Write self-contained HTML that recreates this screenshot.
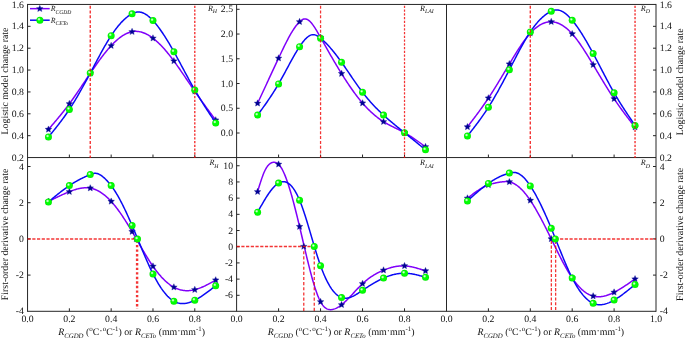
<!DOCTYPE html>
<html lang="en"><head><meta charset="utf-8"><title>Logistic model change rate and first-order derivative change rate</title>
<style>html,body{margin:0;padding:0;background:#fff;}body{width:685px;height:339px;overflow:hidden;}svg{display:block;}text{font-family:"Liberation Serif", "DejaVu Serif", serif;font-size:9.75px;fill:#111;text-rendering:geometricPrecision;}</style>
</head><body>
<svg width="685" height="339" viewBox="0 0 685 339">
<defs><radialGradient id="gbody" cx="0.5" cy="0.5" r="0.5"><stop offset="0" stop-color="#08ff08"/><stop offset="0.8" stop-color="#00fc00"/><stop offset="1" stop-color="#00e400"/></radialGradient><radialGradient id="ghl" cx="0.5" cy="0.5" r="0.5"><stop offset="0" stop-color="#ffffff" stop-opacity="0.95"/><stop offset="0.35" stop-color="#ffffff" stop-opacity="0.7"/><stop offset="1" stop-color="#ffffff" stop-opacity="0"/></radialGradient></defs>
<rect x="0" y="0" width="685" height="339" fill="#ffffff"/>
<g stroke="#262626" stroke-width="1" fill="none" shape-rendering="auto">
<line x1="27.55" y1="4.45" x2="656.00" y2="4.45"/>
<line x1="27.55" y1="157.55" x2="656.00" y2="157.55"/>
<line x1="27.55" y1="311.30" x2="656.00" y2="311.30"/>
<line x1="27.55" y1="3.95" x2="27.55" y2="311.80"/>
<line x1="236.60" y1="4.45" x2="236.60" y2="311.30"/>
<line x1="446.50" y1="4.45" x2="446.50" y2="311.30"/>
<line x1="656.00" y1="3.95" x2="656.00" y2="311.80"/>
<line x1="69.36" y1="157.55" x2="69.36" y2="154.55"/>
<line x1="69.36" y1="311.30" x2="69.36" y2="308.30"/>
<line x1="111.17" y1="157.55" x2="111.17" y2="154.55"/>
<line x1="111.17" y1="311.30" x2="111.17" y2="308.30"/>
<line x1="152.98" y1="157.55" x2="152.98" y2="154.55"/>
<line x1="152.98" y1="311.30" x2="152.98" y2="308.30"/>
<line x1="194.79" y1="157.55" x2="194.79" y2="154.55"/>
<line x1="194.79" y1="311.30" x2="194.79" y2="308.30"/>
<line x1="278.58" y1="157.55" x2="278.58" y2="154.55"/>
<line x1="278.58" y1="311.30" x2="278.58" y2="308.30"/>
<line x1="320.56" y1="157.55" x2="320.56" y2="154.55"/>
<line x1="320.56" y1="311.30" x2="320.56" y2="308.30"/>
<line x1="362.54" y1="157.55" x2="362.54" y2="154.55"/>
<line x1="362.54" y1="311.30" x2="362.54" y2="308.30"/>
<line x1="404.52" y1="157.55" x2="404.52" y2="154.55"/>
<line x1="404.52" y1="311.30" x2="404.52" y2="308.30"/>
<line x1="488.40" y1="157.55" x2="488.40" y2="154.55"/>
<line x1="488.40" y1="311.30" x2="488.40" y2="308.30"/>
<line x1="530.30" y1="157.55" x2="530.30" y2="154.55"/>
<line x1="530.30" y1="311.30" x2="530.30" y2="308.30"/>
<line x1="572.20" y1="157.55" x2="572.20" y2="154.55"/>
<line x1="572.20" y1="311.30" x2="572.20" y2="308.30"/>
<line x1="614.10" y1="157.55" x2="614.10" y2="154.55"/>
<line x1="614.10" y1="311.30" x2="614.10" y2="308.30"/>
<line x1="27.55" y1="26.32" x2="30.55" y2="26.32"/>
<line x1="27.55" y1="48.19" x2="30.55" y2="48.19"/>
<line x1="27.55" y1="70.06" x2="30.55" y2="70.06"/>
<line x1="27.55" y1="91.94" x2="30.55" y2="91.94"/>
<line x1="27.55" y1="113.81" x2="30.55" y2="113.81"/>
<line x1="27.55" y1="135.68" x2="30.55" y2="135.68"/>
<line x1="27.55" y1="166.50" x2="30.55" y2="166.50"/>
<line x1="27.55" y1="202.70" x2="30.55" y2="202.70"/>
<line x1="27.55" y1="238.90" x2="30.55" y2="238.90"/>
<line x1="27.55" y1="275.10" x2="30.55" y2="275.10"/>
<line x1="236.60" y1="9.30" x2="239.60" y2="9.30"/>
<line x1="236.60" y1="34.04" x2="239.60" y2="34.04"/>
<line x1="236.60" y1="58.78" x2="239.60" y2="58.78"/>
<line x1="236.60" y1="83.52" x2="239.60" y2="83.52"/>
<line x1="236.60" y1="108.26" x2="239.60" y2="108.26"/>
<line x1="236.60" y1="133.00" x2="239.60" y2="133.00"/>
<line x1="236.60" y1="165.75" x2="239.60" y2="165.75"/>
<line x1="236.60" y1="181.94" x2="239.60" y2="181.94"/>
<line x1="236.60" y1="198.14" x2="239.60" y2="198.14"/>
<line x1="236.60" y1="214.33" x2="239.60" y2="214.33"/>
<line x1="236.60" y1="230.53" x2="239.60" y2="230.53"/>
<line x1="236.60" y1="246.72" x2="239.60" y2="246.72"/>
<line x1="236.60" y1="262.91" x2="239.60" y2="262.91"/>
<line x1="236.60" y1="279.11" x2="239.60" y2="279.11"/>
<line x1="236.60" y1="295.30" x2="239.60" y2="295.30"/>
<line x1="656.00" y1="26.32" x2="653.00" y2="26.32"/>
<line x1="656.00" y1="48.19" x2="653.00" y2="48.19"/>
<line x1="656.00" y1="70.06" x2="653.00" y2="70.06"/>
<line x1="656.00" y1="91.94" x2="653.00" y2="91.94"/>
<line x1="656.00" y1="113.81" x2="653.00" y2="113.81"/>
<line x1="656.00" y1="135.68" x2="653.00" y2="135.68"/>
<line x1="656.00" y1="166.50" x2="653.00" y2="166.50"/>
<line x1="656.00" y1="202.70" x2="653.00" y2="202.70"/>
<line x1="656.00" y1="238.90" x2="653.00" y2="238.90"/>
<line x1="656.00" y1="275.10" x2="653.00" y2="275.10"/>
</g>
<g>
<text x="23.95" y="7.60" text-anchor="end">1.6</text>
<text x="23.95" y="29.47" text-anchor="end">1.4</text>
<text x="23.95" y="51.34" text-anchor="end">1.2</text>
<text x="23.95" y="73.21" text-anchor="end">1.0</text>
<text x="23.95" y="95.09" text-anchor="end">0.8</text>
<text x="23.95" y="116.96" text-anchor="end">0.6</text>
<text x="23.95" y="138.83" text-anchor="end">0.4</text>
<text x="23.95" y="160.70" text-anchor="end">0.2</text>
<text x="23.95" y="169.65" text-anchor="end">4</text>
<text x="23.95" y="205.85" text-anchor="end">2</text>
<text x="23.95" y="242.05" text-anchor="end">0</text>
<text x="23.95" y="278.25" text-anchor="end">-2</text>
<text x="23.95" y="314.45" text-anchor="end">-4</text>
<text x="233.00" y="12.45" text-anchor="end">2.5</text>
<text x="233.00" y="37.19" text-anchor="end">2.0</text>
<text x="233.00" y="61.93" text-anchor="end">1.5</text>
<text x="233.00" y="86.67" text-anchor="end">1.0</text>
<text x="233.00" y="111.41" text-anchor="end">0.5</text>
<text x="233.00" y="136.15" text-anchor="end">0.0</text>
<text x="233.00" y="168.90" text-anchor="end">10</text>
<text x="233.00" y="185.09" text-anchor="end">8</text>
<text x="233.00" y="201.29" text-anchor="end">6</text>
<text x="233.00" y="217.48" text-anchor="end">4</text>
<text x="233.00" y="233.68" text-anchor="end">2</text>
<text x="233.00" y="249.87" text-anchor="end">0</text>
<text x="233.00" y="266.06" text-anchor="end">-2</text>
<text x="233.00" y="282.26" text-anchor="end">-4</text>
<text x="233.00" y="298.45" text-anchor="end">-6</text>
<text x="659.75" y="7.60" text-anchor="start">1.6</text>
<text x="659.75" y="29.47" text-anchor="start">1.4</text>
<text x="659.75" y="51.34" text-anchor="start">1.2</text>
<text x="659.75" y="73.21" text-anchor="start">1.0</text>
<text x="659.75" y="95.09" text-anchor="start">0.8</text>
<text x="659.75" y="116.96" text-anchor="start">0.6</text>
<text x="659.75" y="138.83" text-anchor="start">0.4</text>
<text x="659.75" y="160.70" text-anchor="start">0.2</text>
<text x="659.75" y="169.65" text-anchor="start">4</text>
<text x="659.75" y="205.85" text-anchor="start">2</text>
<text x="659.75" y="242.05" text-anchor="start">0</text>
<text x="659.75" y="278.25" text-anchor="start">-2</text>
<text x="659.75" y="314.45" text-anchor="start">-4</text>
<text x="27.55" y="322.30" text-anchor="middle">0.0</text>
<text x="69.36" y="322.30" text-anchor="middle">0.2</text>
<text x="111.17" y="322.30" text-anchor="middle">0.4</text>
<text x="152.98" y="322.30" text-anchor="middle">0.6</text>
<text x="194.79" y="322.30" text-anchor="middle">0.8</text>
<text x="236.60" y="322.30" text-anchor="middle">0.0</text>
<text x="278.58" y="322.30" text-anchor="middle">0.2</text>
<text x="320.56" y="322.30" text-anchor="middle">0.4</text>
<text x="362.54" y="322.30" text-anchor="middle">0.6</text>
<text x="404.52" y="322.30" text-anchor="middle">0.8</text>
<text x="446.50" y="322.30" text-anchor="middle">0.0</text>
<text x="488.40" y="322.30" text-anchor="middle">0.2</text>
<text x="530.30" y="322.30" text-anchor="middle">0.4</text>
<text x="572.20" y="322.30" text-anchor="middle">0.6</text>
<text x="614.10" y="322.30" text-anchor="middle">0.8</text>
<text x="656.00" y="322.30" text-anchor="middle">1.0</text>
</g>
<text x="131.57" y="335.1" text-anchor="middle" style="font-size:9.9px"><tspan font-style="italic">R</tspan><tspan font-style="italic" font-size="6.8" dy="2.4">CGDD</tspan><tspan dy="-2.4"> (</tspan><tspan font-size="7" dy="-4.2">o</tspan><tspan dy="4.2">C</tspan><tspan dy="-1.1">·</tspan><tspan font-size="7" dy="-3.1">o</tspan><tspan dy="4.2">C</tspan><tspan font-size="6.8" dy="-4.3">-1</tspan><tspan dy="4.3">) or </tspan><tspan font-style="italic">R</tspan><tspan font-style="italic" font-size="6.8" dy="2.4">CETo</tspan><tspan dy="-2.4"> (mm</tspan><tspan dy="-1.1">·</tspan><tspan dy="1.1">mm</tspan><tspan font-size="6.8" dy="-4.3">-1</tspan><tspan dy="4.3">)</tspan></text>
<text x="341.05" y="335.1" text-anchor="middle" style="font-size:9.9px"><tspan font-style="italic">R</tspan><tspan font-style="italic" font-size="6.8" dy="2.4">CGDD</tspan><tspan dy="-2.4"> (</tspan><tspan font-size="7" dy="-4.2">o</tspan><tspan dy="4.2">C</tspan><tspan dy="-1.1">·</tspan><tspan font-size="7" dy="-3.1">o</tspan><tspan dy="4.2">C</tspan><tspan font-size="6.8" dy="-4.3">-1</tspan><tspan dy="4.3">) or </tspan><tspan font-style="italic">R</tspan><tspan font-style="italic" font-size="6.8" dy="2.4">CETo</tspan><tspan dy="-2.4"> (mm</tspan><tspan dy="-1.1">·</tspan><tspan dy="1.1">mm</tspan><tspan font-size="6.8" dy="-4.3">-1</tspan><tspan dy="4.3">)</tspan></text>
<text x="550.75" y="335.1" text-anchor="middle" style="font-size:9.9px"><tspan font-style="italic">R</tspan><tspan font-style="italic" font-size="6.8" dy="2.4">CGDD</tspan><tspan dy="-2.4"> (</tspan><tspan font-size="7" dy="-4.2">o</tspan><tspan dy="4.2">C</tspan><tspan dy="-1.1">·</tspan><tspan font-size="7" dy="-3.1">o</tspan><tspan dy="4.2">C</tspan><tspan font-size="6.8" dy="-4.3">-1</tspan><tspan dy="4.3">) or </tspan><tspan font-style="italic">R</tspan><tspan font-style="italic" font-size="6.8" dy="2.4">CETo</tspan><tspan dy="-2.4"> (mm</tspan><tspan dy="-1.1">·</tspan><tspan dy="1.1">mm</tspan><tspan font-size="6.8" dy="-4.3">-1</tspan><tspan dy="4.3">)</tspan></text>
<text transform="translate(8.10 81.00) rotate(-90)" text-anchor="middle" style="font-size:9.85px">Logistic model change rate</text>
<text transform="translate(8.10 234.43) rotate(-90)" text-anchor="middle" style="font-size:9.85px">First-order derivative change rate</text>
<text transform="translate(683.00 81.90) rotate(-90)" text-anchor="middle" style="font-size:9.85px">Logistic model change rate</text>
<text transform="translate(682.90 234.33) rotate(-90)" text-anchor="middle" style="font-size:9.97px">First-order derivative change rate</text>
<text x="207.90" y="10.80" font-style="italic" style="font-size:8.1px">R<tspan font-size="5.8" dy="2.3">H</tspan></text>
<text x="209.40" y="165.20" font-style="italic" style="font-size:8.1px">R<tspan font-size="5.8" dy="2.3">H</tspan></text>
<text x="420.10" y="10.80" font-style="italic" style="font-size:8.1px">R<tspan font-size="5.8" dy="2.3">LAI</tspan></text>
<text x="420.10" y="165.20" font-style="italic" style="font-size:8.1px">R<tspan font-size="5.8" dy="2.3">LAI</tspan></text>
<text x="640.80" y="10.80" font-style="italic" style="font-size:8.1px">R<tspan font-size="5.8" dy="2.3">D</tspan></text>
<text x="640.80" y="165.20" font-style="italic" style="font-size:8.1px">R<tspan font-size="5.8" dy="2.3">D</tspan></text>
<path d="M48.45 129.40 L49.15 128.59 L49.85 127.78 L50.55 126.97 L51.24 126.16 L51.94 125.35 L52.64 124.54 L53.33 123.72 L54.03 122.91 L54.73 122.09 L55.42 121.27 L56.12 120.44 L56.82 119.61 L57.51 118.78 L58.21 117.94 L58.91 117.10 L59.60 116.26 L60.30 115.41 L61.00 114.56 L61.69 113.70 L62.39 112.83 L63.09 111.96 L63.79 111.08 L64.48 110.20 L65.18 109.31 L65.88 108.41 L66.57 107.50 L67.27 106.59 L67.97 105.67 L68.66 104.74 L69.36 103.80 L70.06 102.85 L70.75 101.90 L71.45 100.93 L72.15 99.96 L72.84 98.98 L73.54 97.99 L74.24 97.00 L74.93 96.00 L75.63 95.00 L76.33 93.99 L77.03 92.97 L77.72 91.95 L78.42 90.93 L79.12 89.90 L79.81 88.87 L80.51 87.84 L81.21 86.80 L81.90 85.77 L82.60 84.73 L83.30 83.69 L83.99 82.65 L84.69 81.60 L85.39 80.56 L86.08 79.52 L86.78 78.48 L87.48 77.44 L88.17 76.40 L88.87 75.36 L89.57 74.33 L90.27 73.30 L90.96 72.27 L91.66 71.25 L92.36 70.23 L93.05 69.21 L93.75 68.20 L94.45 67.20 L95.14 66.20 L95.84 65.20 L96.54 64.22 L97.23 63.24 L97.93 62.26 L98.63 61.30 L99.32 60.34 L100.02 59.39 L100.72 58.45 L101.41 57.52 L102.11 56.60 L102.81 55.69 L103.50 54.79 L104.20 53.90 L104.90 53.02 L105.60 52.16 L106.29 51.30 L106.99 50.46 L107.69 49.63 L108.38 48.82 L109.08 48.02 L109.78 47.23 L110.47 46.46 L111.17 45.70 L111.87 44.96 L112.56 44.23 L113.26 43.52 L113.96 42.83 L114.65 42.15 L115.35 41.49 L116.05 40.85 L116.74 40.23 L117.44 39.62 L118.14 39.03 L118.84 38.47 L119.53 37.92 L120.23 37.39 L120.93 36.88 L121.62 36.39 L122.32 35.92 L123.02 35.47 L123.71 35.04 L124.41 34.64 L125.11 34.25 L125.80 33.89 L126.50 33.55 L127.20 33.24 L127.89 32.95 L128.59 32.68 L129.29 32.43 L129.98 32.21 L130.68 32.02 L131.38 31.85 L132.07 31.70 L132.77 31.58 L133.47 31.49 L134.17 31.42 L134.86 31.37 L135.56 31.35 L136.26 31.36 L136.95 31.39 L137.65 31.44 L138.35 31.52 L139.04 31.62 L139.74 31.74 L140.44 31.89 L141.13 32.06 L141.83 32.25 L142.53 32.47 L143.22 32.70 L143.92 32.96 L144.62 33.24 L145.31 33.54 L146.01 33.87 L146.71 34.21 L147.41 34.57 L148.10 34.96 L148.80 35.36 L149.50 35.79 L150.19 36.23 L150.89 36.69 L151.59 37.18 L152.28 37.68 L152.98 38.20 L153.68 38.74 L154.37 39.30 L155.07 39.87 L155.77 40.46 L156.46 41.07 L157.16 41.70 L157.86 42.34 L158.55 43.00 L159.25 43.68 L159.95 44.37 L160.65 45.08 L161.34 45.80 L162.04 46.53 L162.74 47.29 L163.43 48.05 L164.13 48.83 L164.83 49.62 L165.52 50.43 L166.22 51.24 L166.92 52.07 L167.61 52.92 L168.31 53.77 L169.01 54.64 L169.70 55.52 L170.40 56.40 L171.10 57.30 L171.79 58.21 L172.49 59.13 L173.19 60.06 L173.89 61.00 L174.58 61.95 L175.28 62.90 L175.98 63.87 L176.67 64.84 L177.37 65.82 L178.07 66.81 L178.76 67.80 L179.46 68.80 L180.16 69.80 L180.85 70.81 L181.55 71.82 L182.25 72.84 L182.94 73.86 L183.64 74.88 L184.34 75.91 L185.03 76.94 L185.73 77.97 L186.43 79.00 L187.12 80.03 L187.82 81.06 L188.52 82.09 L189.22 83.13 L189.91 84.16 L190.61 85.18 L191.31 86.21 L192.00 87.24 L192.70 88.26 L193.40 89.28 L194.09 90.29 L194.79 91.30 L195.49 92.31 L196.18 93.31 L196.88 94.30 L197.58 95.29 L198.27 96.28 L198.97 97.27 L199.67 98.25 L200.36 99.22 L201.06 100.20 L201.76 101.16 L202.46 102.13 L203.15 103.09 L203.85 104.06 L204.55 105.01 L205.24 105.97 L205.94 106.92 L206.64 107.87 L207.33 108.82 L208.03 109.77 L208.73 110.71 L209.42 111.66 L210.12 112.60 L210.82 113.54 L211.51 114.48 L212.21 115.42 L212.91 116.35 L213.60 117.29 L214.30 118.23 L215.00 119.16 L215.69 120.10" fill="none" stroke="#8000fa" stroke-width="1.5" stroke-linejoin="round" stroke-linecap="round"/>
<polygon points="48.45,125.95 49.40,128.11 51.74,128.33 49.98,129.89 50.48,132.19 48.45,131.00 46.43,132.19 46.93,129.89 45.17,128.33 47.51,128.11" fill="#000094" stroke="#2020a0" stroke-width="0.4" stroke-linejoin="miter"/>
<polygon points="69.36,100.35 70.30,102.51 72.64,102.73 70.88,104.29 71.39,106.59 69.36,105.40 67.33,106.59 67.84,104.29 66.08,102.73 68.42,102.51" fill="#000094" stroke="#2020a0" stroke-width="0.4" stroke-linejoin="miter"/>
<polygon points="90.26,69.85 91.21,72.01 93.55,72.23 91.79,73.79 92.29,76.09 90.26,74.90 88.24,76.09 88.74,73.79 86.98,72.23 89.32,72.01" fill="#000094" stroke="#2020a0" stroke-width="0.4" stroke-linejoin="miter"/>
<polygon points="111.17,42.25 112.11,44.41 114.45,44.63 112.69,46.19 113.20,48.49 111.17,47.30 109.14,48.49 109.65,46.19 107.89,44.63 110.23,44.41" fill="#000094" stroke="#2020a0" stroke-width="0.4" stroke-linejoin="miter"/>
<polygon points="132.07,28.25 133.02,30.41 135.36,30.63 133.60,32.19 134.10,34.49 132.07,33.30 130.05,34.49 130.55,32.19 128.79,30.63 131.13,30.41" fill="#000094" stroke="#2020a0" stroke-width="0.4" stroke-linejoin="miter"/>
<polygon points="152.98,34.75 153.92,36.91 156.26,37.13 154.50,38.69 155.01,40.99 152.98,39.80 150.95,40.99 151.46,38.69 149.70,37.13 152.04,36.91" fill="#000094" stroke="#2020a0" stroke-width="0.4" stroke-linejoin="miter"/>
<polygon points="173.88,57.55 174.83,59.71 177.17,59.93 175.41,61.49 175.91,63.79 173.88,62.60 171.86,63.79 172.36,61.49 170.60,59.93 172.94,59.71" fill="#000094" stroke="#2020a0" stroke-width="0.4" stroke-linejoin="miter"/>
<polygon points="194.79,87.85 195.73,90.01 198.07,90.23 196.31,91.79 196.82,94.09 194.79,92.90 192.76,94.09 193.27,91.79 191.51,90.23 193.85,90.01" fill="#000094" stroke="#2020a0" stroke-width="0.4" stroke-linejoin="miter"/>
<polygon points="215.69,116.65 216.64,118.81 218.98,119.03 217.22,120.59 217.72,122.89 215.69,121.70 213.67,122.89 214.17,120.59 212.41,119.03 214.75,118.81" fill="#000094" stroke="#2020a0" stroke-width="0.4" stroke-linejoin="miter"/>
<path d="M48.45 137.00 L49.15 136.15 L49.85 135.30 L50.55 134.44 L51.24 133.59 L51.94 132.73 L52.64 131.87 L53.33 131.01 L54.03 130.15 L54.73 129.28 L55.42 128.41 L56.12 127.53 L56.82 126.65 L57.51 125.76 L58.21 124.87 L58.91 123.97 L59.60 123.06 L60.30 122.15 L61.00 121.23 L61.69 120.30 L62.39 119.36 L63.09 118.41 L63.79 117.45 L64.48 116.49 L65.18 115.51 L65.88 114.52 L66.57 113.52 L67.27 112.51 L67.97 111.49 L68.66 110.45 L69.36 109.40 L70.06 108.34 L70.75 107.26 L71.45 106.17 L72.15 105.07 L72.84 103.95 L73.54 102.83 L74.24 101.69 L74.93 100.54 L75.63 99.38 L76.33 98.21 L77.03 97.03 L77.72 95.84 L78.42 94.64 L79.12 93.43 L79.81 92.21 L80.51 90.98 L81.21 89.75 L81.90 88.50 L82.60 87.25 L83.30 86.00 L83.99 84.73 L84.69 83.46 L85.39 82.18 L86.08 80.90 L86.78 79.61 L87.48 78.32 L88.17 77.02 L88.87 75.72 L89.57 74.41 L90.27 73.10 L90.96 71.79 L91.66 70.47 L92.36 69.15 L93.05 67.83 L93.75 66.51 L94.45 65.19 L95.14 63.87 L95.84 62.56 L96.54 61.25 L97.23 59.94 L97.93 58.63 L98.63 57.33 L99.32 56.04 L100.02 54.75 L100.72 53.47 L101.41 52.20 L102.11 50.94 L102.81 49.68 L103.50 48.44 L104.20 47.21 L104.90 45.99 L105.60 44.79 L106.29 43.59 L106.99 42.42 L107.69 41.25 L108.38 40.11 L109.08 38.98 L109.78 37.87 L110.47 36.77 L111.17 35.70 L111.87 34.65 L112.56 33.61 L113.26 32.60 L113.96 31.61 L114.65 30.63 L115.35 29.68 L116.05 28.75 L116.74 27.85 L117.44 26.96 L118.14 26.09 L118.84 25.25 L119.53 24.43 L120.23 23.64 L120.93 22.86 L121.62 22.11 L122.32 21.39 L123.02 20.68 L123.71 20.00 L124.41 19.35 L125.11 18.72 L125.80 18.11 L126.50 17.53 L127.20 16.97 L127.89 16.44 L128.59 15.94 L129.29 15.46 L129.98 15.00 L130.68 14.58 L131.38 14.17 L132.07 13.80 L132.77 13.45 L133.47 13.14 L134.17 12.85 L134.86 12.60 L135.56 12.39 L136.26 12.22 L136.95 12.09 L137.65 12.01 L138.35 11.97 L139.04 11.99 L139.74 12.05 L140.44 12.15 L141.13 12.30 L141.83 12.50 L142.53 12.73 L143.22 13.01 L143.92 13.33 L144.62 13.69 L145.31 14.08 L146.01 14.51 L146.71 14.98 L147.41 15.48 L148.10 16.02 L148.80 16.58 L149.50 17.18 L150.19 17.81 L150.89 18.47 L151.59 19.15 L152.28 19.86 L152.98 20.60 L153.68 21.36 L154.37 22.15 L155.07 22.96 L155.77 23.79 L156.46 24.64 L157.16 25.52 L157.86 26.41 L158.55 27.33 L159.25 28.27 L159.95 29.23 L160.65 30.20 L161.34 31.20 L162.04 32.21 L162.74 33.24 L163.43 34.29 L164.13 35.35 L164.83 36.43 L165.52 37.53 L166.22 38.64 L166.92 39.77 L167.61 40.91 L168.31 42.06 L169.01 43.22 L169.70 44.40 L170.40 45.59 L171.10 46.79 L171.79 48.00 L172.49 49.23 L173.19 50.46 L173.89 51.70 L174.58 52.95 L175.28 54.21 L175.98 55.47 L176.67 56.74 L177.37 58.02 L178.07 59.31 L178.76 60.59 L179.46 61.89 L180.16 63.18 L180.85 64.48 L181.55 65.78 L182.25 67.08 L182.94 68.38 L183.64 69.69 L184.34 70.99 L185.03 72.29 L185.73 73.59 L186.43 74.89 L187.12 76.18 L187.82 77.47 L188.52 78.75 L189.22 80.03 L189.91 81.31 L190.61 82.57 L191.31 83.83 L192.00 85.08 L192.70 86.33 L193.40 87.56 L194.09 88.79 L194.79 90.00 L195.49 91.20 L196.18 92.39 L196.88 93.58 L197.58 94.75 L198.27 95.91 L198.97 97.06 L199.67 98.21 L200.36 99.34 L201.06 100.47 L201.76 101.59 L202.46 102.70 L203.15 103.80 L203.85 104.90 L204.55 105.99 L205.24 107.08 L205.94 108.16 L206.64 109.23 L207.33 110.30 L208.03 111.37 L208.73 112.43 L209.42 113.49 L210.12 114.54 L210.82 115.59 L211.51 116.64 L212.21 117.69 L212.91 118.73 L213.60 119.78 L214.30 120.82 L215.00 121.86 L215.69 122.90" fill="none" stroke="#0a0af5" stroke-width="1.5" stroke-linejoin="round" stroke-linecap="round"/>
<circle cx="48.45" cy="137.00" r="3.5" fill="url(#gbody)"/><circle cx="47.55" cy="136.05" r="1.75" fill="url(#ghl)"/>
<circle cx="69.36" cy="109.40" r="3.5" fill="url(#gbody)"/><circle cx="68.46" cy="108.45" r="1.75" fill="url(#ghl)"/>
<circle cx="90.26" cy="73.10" r="3.5" fill="url(#gbody)"/><circle cx="89.36" cy="72.15" r="1.75" fill="url(#ghl)"/>
<circle cx="111.17" cy="35.70" r="3.5" fill="url(#gbody)"/><circle cx="110.27" cy="34.75" r="1.75" fill="url(#ghl)"/>
<circle cx="132.07" cy="13.80" r="3.5" fill="url(#gbody)"/><circle cx="131.17" cy="12.85" r="1.75" fill="url(#ghl)"/>
<circle cx="152.98" cy="20.60" r="3.5" fill="url(#gbody)"/><circle cx="152.08" cy="19.65" r="1.75" fill="url(#ghl)"/>
<circle cx="173.88" cy="51.70" r="3.5" fill="url(#gbody)"/><circle cx="172.98" cy="50.75" r="1.75" fill="url(#ghl)"/>
<circle cx="194.79" cy="90.00" r="3.5" fill="url(#gbody)"/><circle cx="193.89" cy="89.05" r="1.75" fill="url(#ghl)"/>
<circle cx="215.69" cy="122.90" r="3.5" fill="url(#gbody)"/><circle cx="214.79" cy="121.95" r="1.75" fill="url(#ghl)"/>
<path d="M257.59 103.30 L258.29 101.79 L258.99 100.28 L259.69 98.77 L260.39 97.26 L261.09 95.76 L261.79 94.25 L262.49 92.74 L263.19 91.23 L263.89 89.72 L264.59 88.22 L265.29 86.71 L265.99 85.20 L266.69 83.70 L267.39 82.19 L268.08 80.69 L268.78 79.18 L269.48 77.68 L270.18 76.17 L270.88 74.67 L271.58 73.17 L272.28 71.67 L272.98 70.17 L273.68 68.67 L274.38 67.17 L275.08 65.67 L275.78 64.18 L276.48 62.68 L277.18 61.19 L277.88 59.69 L278.58 58.20 L279.28 56.71 L279.98 55.22 L280.68 53.74 L281.38 52.26 L282.08 50.79 L282.78 49.33 L283.48 47.88 L284.18 46.45 L284.88 45.03 L285.58 43.63 L286.28 42.24 L286.98 40.88 L287.68 39.54 L288.38 38.22 L289.07 36.93 L289.77 35.66 L290.47 34.43 L291.17 33.22 L291.87 32.05 L292.57 30.91 L293.27 29.81 L293.97 28.75 L294.67 27.72 L295.37 26.74 L296.07 25.80 L296.77 24.90 L297.47 24.05 L298.17 23.25 L298.87 22.50 L299.57 21.80 L300.27 21.16 L300.97 20.57 L301.67 20.06 L302.37 19.63 L303.07 19.29 L303.77 19.04 L304.47 18.91 L305.17 18.88 L305.87 18.97 L306.57 19.16 L307.27 19.46 L307.97 19.85 L308.67 20.33 L309.37 20.90 L310.06 21.55 L310.76 22.27 L311.46 23.06 L312.16 23.92 L312.86 24.85 L313.56 25.82 L314.26 26.85 L314.96 27.92 L315.66 29.03 L316.36 30.18 L317.06 31.35 L317.76 32.55 L318.46 33.77 L319.16 35.01 L319.86 36.25 L320.56 37.50 L321.26 38.75 L321.96 40.00 L322.66 41.24 L323.36 42.49 L324.06 43.73 L324.76 44.97 L325.46 46.21 L326.16 47.44 L326.86 48.68 L327.56 49.91 L328.26 51.14 L328.96 52.36 L329.66 53.58 L330.36 54.80 L331.06 56.01 L331.75 57.22 L332.45 58.43 L333.15 59.63 L333.85 60.83 L334.55 62.02 L335.25 63.20 L335.95 64.38 L336.65 65.56 L337.35 66.72 L338.05 67.89 L338.75 69.04 L339.45 70.19 L340.15 71.34 L340.85 72.47 L341.55 73.60 L342.25 74.72 L342.95 75.83 L343.65 76.94 L344.35 78.04 L345.05 79.13 L345.75 80.21 L346.45 81.28 L347.15 82.35 L347.85 83.40 L348.55 84.45 L349.25 85.48 L349.95 86.51 L350.65 87.52 L351.35 88.53 L352.04 89.53 L352.74 90.51 L353.44 91.49 L354.14 92.45 L354.84 93.40 L355.54 94.35 L356.24 95.28 L356.94 96.19 L357.64 97.10 L358.34 98.00 L359.04 98.88 L359.74 99.75 L360.44 100.61 L361.14 101.45 L361.84 102.28 L362.54 103.10 L363.24 103.90 L363.94 104.70 L364.64 105.47 L365.34 106.24 L366.04 106.99 L366.74 107.73 L367.44 108.45 L368.14 109.17 L368.84 109.86 L369.54 110.55 L370.24 111.22 L370.94 111.89 L371.64 112.53 L372.34 113.17 L373.03 113.79 L373.73 114.40 L374.43 115.00 L375.13 115.59 L375.83 116.16 L376.53 116.73 L377.23 117.28 L377.93 117.82 L378.63 118.34 L379.33 118.86 L380.03 119.36 L380.73 119.85 L381.43 120.33 L382.13 120.80 L382.83 121.25 L383.53 121.70 L384.23 122.13 L384.93 122.56 L385.63 122.97 L386.33 123.38 L387.03 123.77 L387.73 124.16 L388.43 124.54 L389.13 124.91 L389.83 125.28 L390.53 125.64 L391.23 126.00 L391.93 126.35 L392.63 126.70 L393.33 127.04 L394.02 127.39 L394.72 127.73 L395.42 128.07 L396.12 128.41 L396.82 128.75 L397.52 129.09 L398.22 129.43 L398.92 129.78 L399.62 130.13 L400.32 130.48 L401.02 130.84 L401.72 131.20 L402.42 131.56 L403.12 131.93 L403.82 132.31 L404.52 132.70 L405.22 133.09 L405.92 133.50 L406.62 133.91 L407.32 134.32 L408.02 134.74 L408.72 135.17 L409.42 135.61 L410.12 136.05 L410.82 136.50 L411.52 136.96 L412.22 137.42 L412.92 137.88 L413.62 138.35 L414.32 138.82 L415.01 139.30 L415.71 139.78 L416.41 140.27 L417.11 140.76 L417.81 141.25 L418.51 141.74 L419.21 142.24 L419.91 142.74 L420.61 143.25 L421.31 143.75 L422.01 144.26 L422.71 144.76 L423.41 145.27 L424.11 145.78 L424.81 146.29 L425.51 146.80" fill="none" stroke="#8000fa" stroke-width="1.5" stroke-linejoin="round" stroke-linecap="round"/>
<polygon points="257.59,99.85 258.53,102.01 260.87,102.23 259.11,103.79 259.62,106.09 257.59,104.90 255.56,106.09 256.07,103.79 254.31,102.23 256.65,102.01" fill="#000094" stroke="#2020a0" stroke-width="0.4" stroke-linejoin="miter"/>
<polygon points="278.58,54.75 279.52,56.91 281.86,57.13 280.10,58.69 280.61,60.99 278.58,59.80 276.55,60.99 277.06,58.69 275.30,57.13 277.64,56.91" fill="#000094" stroke="#2020a0" stroke-width="0.4" stroke-linejoin="miter"/>
<polygon points="299.57,18.35 300.51,20.51 302.85,20.73 301.09,22.29 301.60,24.59 299.57,23.40 297.54,24.59 298.05,22.29 296.29,20.73 298.63,20.51" fill="#000094" stroke="#2020a0" stroke-width="0.4" stroke-linejoin="miter"/>
<polygon points="320.56,34.05 321.50,36.21 323.84,36.43 322.08,37.99 322.59,40.29 320.56,39.10 318.53,40.29 319.04,37.99 317.28,36.43 319.62,36.21" fill="#000094" stroke="#2020a0" stroke-width="0.4" stroke-linejoin="miter"/>
<polygon points="341.55,70.15 342.49,72.31 344.83,72.53 343.07,74.09 343.58,76.39 341.55,75.20 339.52,76.39 340.03,74.09 338.27,72.53 340.61,72.31" fill="#000094" stroke="#2020a0" stroke-width="0.4" stroke-linejoin="miter"/>
<polygon points="362.54,99.65 363.48,101.81 365.82,102.03 364.06,103.59 364.57,105.89 362.54,104.70 360.51,105.89 361.02,103.59 359.26,102.03 361.60,101.81" fill="#000094" stroke="#2020a0" stroke-width="0.4" stroke-linejoin="miter"/>
<polygon points="383.53,118.25 384.47,120.41 386.81,120.63 385.05,122.19 385.56,124.49 383.53,123.30 381.50,124.49 382.01,122.19 380.25,120.63 382.59,120.41" fill="#000094" stroke="#2020a0" stroke-width="0.4" stroke-linejoin="miter"/>
<polygon points="404.52,129.25 405.46,131.41 407.80,131.63 406.04,133.19 406.55,135.49 404.52,134.30 402.49,135.49 403.00,133.19 401.24,131.63 403.58,131.41" fill="#000094" stroke="#2020a0" stroke-width="0.4" stroke-linejoin="miter"/>
<polygon points="425.51,143.35 426.45,145.51 428.79,145.73 427.03,147.29 427.54,149.59 425.51,148.40 423.48,149.59 423.99,147.29 422.23,145.73 424.57,145.51" fill="#000094" stroke="#2020a0" stroke-width="0.4" stroke-linejoin="miter"/>
<path d="M257.59 115.10 L258.29 114.14 L258.99 113.19 L259.69 112.23 L260.39 111.27 L261.09 110.30 L261.79 109.34 L262.49 108.37 L263.19 107.40 L263.89 106.42 L264.59 105.44 L265.29 104.45 L265.99 103.46 L266.69 102.46 L267.39 101.45 L268.08 100.44 L268.78 99.41 L269.48 98.38 L270.18 97.34 L270.88 96.29 L271.58 95.23 L272.28 94.15 L272.98 93.07 L273.68 91.97 L274.38 90.86 L275.08 89.74 L275.78 88.60 L276.48 87.45 L277.18 86.28 L277.88 85.10 L278.58 83.90 L279.28 82.69 L279.98 81.46 L280.68 80.21 L281.38 78.96 L282.08 77.69 L282.78 76.41 L283.48 75.13 L284.18 73.84 L284.88 72.54 L285.58 71.24 L286.28 69.94 L286.98 68.64 L287.68 67.34 L288.38 66.04 L289.07 64.74 L289.77 63.45 L290.47 62.16 L291.17 60.89 L291.87 59.62 L292.57 58.36 L293.27 57.12 L293.97 55.88 L294.67 54.67 L295.37 53.47 L296.07 52.29 L296.77 51.13 L297.47 49.98 L298.17 48.87 L298.87 47.77 L299.57 46.70 L300.27 45.66 L300.97 44.64 L301.67 43.66 L302.37 42.72 L303.07 41.81 L303.77 40.94 L304.47 40.11 L305.17 39.34 L305.87 38.61 L306.57 37.93 L307.27 37.31 L307.97 36.74 L308.67 36.24 L309.37 35.80 L310.06 35.42 L310.76 35.11 L311.46 34.88 L312.16 34.72 L312.86 34.63 L313.56 34.63 L314.26 34.71 L314.96 34.86 L315.66 35.10 L316.36 35.39 L317.06 35.75 L317.76 36.16 L318.46 36.62 L319.16 37.11 L319.86 37.64 L320.56 38.20 L321.26 38.78 L321.96 39.37 L322.66 39.99 L323.36 40.62 L324.06 41.27 L324.76 41.94 L325.46 42.63 L326.16 43.33 L326.86 44.05 L327.56 44.78 L328.26 45.54 L328.96 46.30 L329.66 47.08 L330.36 47.88 L331.06 48.69 L331.75 49.52 L332.45 50.35 L333.15 51.21 L333.85 52.07 L334.55 52.95 L335.25 53.83 L335.95 54.73 L336.65 55.64 L337.35 56.57 L338.05 57.50 L338.75 58.44 L339.45 59.39 L340.15 60.35 L340.85 61.32 L341.55 62.30 L342.25 63.29 L342.95 64.28 L343.65 65.28 L344.35 66.29 L345.05 67.30 L345.75 68.31 L346.45 69.33 L347.15 70.36 L347.85 71.38 L348.55 72.41 L349.25 73.44 L349.95 74.47 L350.65 75.50 L351.35 76.53 L352.04 77.55 L352.74 78.58 L353.44 79.60 L354.14 80.62 L354.84 81.63 L355.54 82.64 L356.24 83.64 L356.94 84.64 L357.64 85.63 L358.34 86.61 L359.04 87.59 L359.74 88.55 L360.44 89.50 L361.14 90.45 L361.84 91.38 L362.54 92.30 L363.24 93.21 L363.94 94.10 L364.64 94.99 L365.34 95.86 L366.04 96.72 L366.74 97.57 L367.44 98.40 L368.14 99.23 L368.84 100.05 L369.54 100.85 L370.24 101.65 L370.94 102.43 L371.64 103.21 L372.34 103.97 L373.03 104.73 L373.73 105.47 L374.43 106.21 L375.13 106.94 L375.83 107.66 L376.53 108.37 L377.23 109.08 L377.93 109.78 L378.63 110.47 L379.33 111.15 L380.03 111.82 L380.73 112.49 L381.43 113.15 L382.13 113.81 L382.83 114.46 L383.53 115.10 L384.23 115.74 L384.93 116.37 L385.63 117.00 L386.33 117.62 L387.03 118.24 L387.73 118.85 L388.43 119.46 L389.13 120.06 L389.83 120.66 L390.53 121.26 L391.23 121.85 L391.93 122.44 L392.63 123.02 L393.33 123.61 L394.02 124.19 L394.72 124.76 L395.42 125.34 L396.12 125.91 L396.82 126.48 L397.52 127.05 L398.22 127.62 L398.92 128.19 L399.62 128.75 L400.32 129.32 L401.02 129.88 L401.72 130.45 L402.42 131.01 L403.12 131.57 L403.82 132.14 L404.52 132.70 L405.22 133.26 L405.92 133.83 L406.62 134.40 L407.32 134.96 L408.02 135.53 L408.72 136.09 L409.42 136.66 L410.12 137.23 L410.82 137.80 L411.52 138.37 L412.22 138.94 L412.92 139.51 L413.62 140.08 L414.32 140.65 L415.01 141.22 L415.71 141.79 L416.41 142.36 L417.11 142.93 L417.81 143.50 L418.51 144.07 L419.21 144.65 L419.91 145.22 L420.61 145.79 L421.31 146.36 L422.01 146.94 L422.71 147.51 L423.41 148.08 L424.11 148.65 L424.81 149.23 L425.51 149.80" fill="none" stroke="#0a0af5" stroke-width="1.5" stroke-linejoin="round" stroke-linecap="round"/>
<circle cx="257.59" cy="115.10" r="3.5" fill="url(#gbody)"/><circle cx="256.69" cy="114.15" r="1.75" fill="url(#ghl)"/>
<circle cx="278.58" cy="83.90" r="3.5" fill="url(#gbody)"/><circle cx="277.68" cy="82.95" r="1.75" fill="url(#ghl)"/>
<circle cx="299.57" cy="46.70" r="3.5" fill="url(#gbody)"/><circle cx="298.67" cy="45.75" r="1.75" fill="url(#ghl)"/>
<circle cx="320.56" cy="38.20" r="3.5" fill="url(#gbody)"/><circle cx="319.66" cy="37.25" r="1.75" fill="url(#ghl)"/>
<circle cx="341.55" cy="62.30" r="3.5" fill="url(#gbody)"/><circle cx="340.65" cy="61.35" r="1.75" fill="url(#ghl)"/>
<circle cx="362.54" cy="92.30" r="3.5" fill="url(#gbody)"/><circle cx="361.64" cy="91.35" r="1.75" fill="url(#ghl)"/>
<circle cx="383.53" cy="115.10" r="3.5" fill="url(#gbody)"/><circle cx="382.63" cy="114.15" r="1.75" fill="url(#ghl)"/>
<circle cx="404.52" cy="132.70" r="3.5" fill="url(#gbody)"/><circle cx="403.62" cy="131.75" r="1.75" fill="url(#ghl)"/>
<circle cx="425.51" cy="149.80" r="3.5" fill="url(#gbody)"/><circle cx="424.61" cy="148.85" r="1.75" fill="url(#ghl)"/>
<path d="M467.45 126.90 L468.15 125.99 L468.85 125.07 L469.55 124.16 L470.24 123.24 L470.94 122.32 L471.64 121.41 L472.34 120.48 L473.04 119.56 L473.74 118.64 L474.43 117.71 L475.13 116.78 L475.83 115.84 L476.53 114.91 L477.23 113.96 L477.93 113.02 L478.62 112.07 L479.32 111.11 L480.02 110.15 L480.72 109.18 L481.42 108.21 L482.12 107.23 L482.81 106.25 L483.51 105.26 L484.21 104.26 L484.91 103.25 L485.61 102.24 L486.31 101.22 L487.00 100.19 L487.70 99.15 L488.40 98.10 L489.10 97.04 L489.80 95.98 L490.50 94.90 L491.19 93.82 L491.89 92.73 L492.59 91.63 L493.29 90.53 L493.99 89.42 L494.69 88.30 L495.38 87.18 L496.08 86.05 L496.78 84.92 L497.48 83.78 L498.18 82.63 L498.88 81.48 L499.57 80.33 L500.27 79.18 L500.97 78.02 L501.67 76.86 L502.37 75.69 L503.06 74.53 L503.76 73.36 L504.46 72.19 L505.16 71.02 L505.86 69.85 L506.56 68.68 L507.25 67.51 L507.95 66.34 L508.65 65.17 L509.35 64.00 L510.05 62.83 L510.75 61.67 L511.44 60.51 L512.14 59.35 L512.84 58.20 L513.54 57.05 L514.24 55.91 L514.94 54.77 L515.63 53.65 L516.33 52.53 L517.03 51.42 L517.73 50.32 L518.43 49.23 L519.13 48.16 L519.82 47.10 L520.52 46.05 L521.22 45.01 L521.92 43.99 L522.62 42.99 L523.32 42.00 L524.01 41.03 L524.71 40.07 L525.41 39.14 L526.11 38.23 L526.81 37.33 L527.51 36.46 L528.20 35.61 L528.90 34.78 L529.60 33.98 L530.30 33.20 L531.00 32.45 L531.70 31.72 L532.39 31.01 L533.09 30.34 L533.79 29.68 L534.49 29.06 L535.19 28.46 L535.89 27.88 L536.58 27.33 L537.28 26.81 L537.98 26.31 L538.68 25.83 L539.38 25.39 L540.08 24.97 L540.77 24.57 L541.47 24.20 L542.17 23.86 L542.87 23.54 L543.57 23.25 L544.27 22.99 L544.96 22.75 L545.66 22.54 L546.36 22.35 L547.06 22.20 L547.76 22.06 L548.46 21.96 L549.15 21.88 L549.85 21.83 L550.55 21.80 L551.25 21.80 L551.95 21.83 L552.65 21.88 L553.35 21.96 L554.04 22.07 L554.74 22.20 L555.44 22.36 L556.14 22.55 L556.84 22.76 L557.53 23.00 L558.23 23.27 L558.93 23.56 L559.63 23.87 L560.33 24.22 L561.03 24.59 L561.72 24.98 L562.42 25.40 L563.12 25.84 L563.82 26.31 L564.52 26.81 L565.22 27.33 L565.91 27.87 L566.61 28.44 L567.31 29.04 L568.01 29.66 L568.71 30.31 L569.41 30.98 L570.11 31.67 L570.80 32.39 L571.50 33.13 L572.20 33.90 L572.90 34.69 L573.60 35.51 L574.29 36.35 L574.99 37.21 L575.69 38.09 L576.39 38.99 L577.09 39.91 L577.79 40.85 L578.48 41.81 L579.18 42.78 L579.88 43.78 L580.58 44.79 L581.28 45.81 L581.98 46.85 L582.67 47.90 L583.37 48.96 L584.07 50.04 L584.77 51.13 L585.47 52.23 L586.17 53.34 L586.87 54.45 L587.56 55.58 L588.26 56.71 L588.96 57.86 L589.66 59.00 L590.36 60.15 L591.05 61.31 L591.75 62.47 L592.45 63.63 L593.15 64.80 L593.85 65.97 L594.55 67.14 L595.24 68.30 L595.94 69.47 L596.64 70.64 L597.34 71.81 L598.04 72.98 L598.74 74.15 L599.43 75.32 L600.13 76.48 L600.83 77.64 L601.53 78.80 L602.23 79.96 L602.93 81.11 L603.62 82.26 L604.32 83.41 L605.02 84.55 L605.72 85.68 L606.42 86.81 L607.12 87.94 L607.81 89.06 L608.51 90.17 L609.21 91.28 L609.91 92.38 L610.61 93.47 L611.31 94.55 L612.00 95.63 L612.70 96.69 L613.40 97.75 L614.10 98.80 L614.80 99.84 L615.50 100.87 L616.19 101.89 L616.89 102.90 L617.59 103.90 L618.29 104.90 L618.99 105.89 L619.69 106.87 L620.38 107.84 L621.08 108.81 L621.78 109.77 L622.48 110.72 L623.18 111.67 L623.88 112.61 L624.57 113.55 L625.27 114.48 L625.97 115.41 L626.67 116.33 L627.37 117.25 L628.07 118.17 L628.76 119.08 L629.46 119.99 L630.16 120.89 L630.86 121.80 L631.56 122.70 L632.26 123.60 L632.95 124.50 L633.65 125.40 L634.35 126.30 L635.05 127.20" fill="none" stroke="#8000fa" stroke-width="1.5" stroke-linejoin="round" stroke-linecap="round"/>
<polygon points="467.45,123.45 468.39,125.61 470.73,125.83 468.97,127.39 469.48,129.69 467.45,128.50 465.42,129.69 465.93,127.39 464.17,125.83 466.51,125.61" fill="#000094" stroke="#2020a0" stroke-width="0.4" stroke-linejoin="miter"/>
<polygon points="488.40,94.65 489.34,96.81 491.68,97.03 489.92,98.59 490.43,100.89 488.40,99.70 486.37,100.89 486.88,98.59 485.12,97.03 487.46,96.81" fill="#000094" stroke="#2020a0" stroke-width="0.4" stroke-linejoin="miter"/>
<polygon points="509.35,60.55 510.29,62.71 512.63,62.93 510.87,64.49 511.38,66.79 509.35,65.60 507.32,66.79 507.83,64.49 506.07,62.93 508.41,62.71" fill="#000094" stroke="#2020a0" stroke-width="0.4" stroke-linejoin="miter"/>
<polygon points="530.30,29.75 531.24,31.91 533.58,32.13 531.82,33.69 532.33,35.99 530.30,34.80 528.27,35.99 528.78,33.69 527.02,32.13 529.36,31.91" fill="#000094" stroke="#2020a0" stroke-width="0.4" stroke-linejoin="miter"/>
<polygon points="551.25,18.35 552.19,20.51 554.53,20.73 552.77,22.29 553.28,24.59 551.25,23.40 549.22,24.59 549.73,22.29 547.97,20.73 550.31,20.51" fill="#000094" stroke="#2020a0" stroke-width="0.4" stroke-linejoin="miter"/>
<polygon points="572.20,30.45 573.14,32.61 575.48,32.83 573.72,34.39 574.23,36.69 572.20,35.50 570.17,36.69 570.68,34.39 568.92,32.83 571.26,32.61" fill="#000094" stroke="#2020a0" stroke-width="0.4" stroke-linejoin="miter"/>
<polygon points="593.15,61.35 594.09,63.51 596.43,63.73 594.67,65.29 595.18,67.59 593.15,66.40 591.12,67.59 591.63,65.29 589.87,63.73 592.21,63.51" fill="#000094" stroke="#2020a0" stroke-width="0.4" stroke-linejoin="miter"/>
<polygon points="614.10,95.35 615.04,97.51 617.38,97.73 615.62,99.29 616.13,101.59 614.10,100.40 612.07,101.59 612.58,99.29 610.82,97.73 613.16,97.51" fill="#000094" stroke="#2020a0" stroke-width="0.4" stroke-linejoin="miter"/>
<polygon points="635.05,123.75 635.99,125.91 638.33,126.13 636.57,127.69 637.08,129.99 635.05,128.80 633.02,129.99 633.53,127.69 631.77,126.13 634.11,125.91" fill="#000094" stroke="#2020a0" stroke-width="0.4" stroke-linejoin="miter"/>
<path d="M467.45 136.00 L468.15 135.11 L468.85 134.23 L469.55 133.34 L470.24 132.45 L470.94 131.55 L471.64 130.66 L472.34 129.76 L473.04 128.86 L473.74 127.96 L474.43 127.05 L475.13 126.14 L475.83 125.22 L476.53 124.30 L477.23 123.37 L477.93 122.43 L478.62 121.49 L479.32 120.54 L480.02 119.58 L480.72 118.61 L481.42 117.64 L482.12 116.65 L482.81 115.66 L483.51 114.66 L484.21 113.64 L484.91 112.61 L485.61 111.58 L486.31 110.53 L487.00 109.46 L487.70 108.39 L488.40 107.30 L489.10 106.20 L489.80 105.08 L490.50 103.95 L491.19 102.81 L491.89 101.65 L492.59 100.49 L493.29 99.31 L493.99 98.12 L494.69 96.92 L495.38 95.71 L496.08 94.49 L496.78 93.25 L497.48 92.01 L498.18 90.76 L498.88 89.50 L499.57 88.23 L500.27 86.96 L500.97 85.68 L501.67 84.38 L502.37 83.09 L503.06 81.78 L503.76 80.47 L504.46 79.15 L505.16 77.83 L505.86 76.50 L506.56 75.17 L507.25 73.83 L507.95 72.49 L508.65 71.15 L509.35 69.80 L510.05 68.45 L510.75 67.10 L511.44 65.74 L512.14 64.39 L512.84 63.03 L513.54 61.68 L514.24 60.33 L514.94 58.98 L515.63 57.64 L516.33 56.30 L517.03 54.96 L517.73 53.64 L518.43 52.32 L519.13 51.01 L519.82 49.71 L520.52 48.42 L521.22 47.14 L521.92 45.87 L522.62 44.61 L523.32 43.37 L524.01 42.14 L524.71 40.93 L525.41 39.74 L526.11 38.56 L526.81 37.40 L527.51 36.26 L528.20 35.14 L528.90 34.04 L529.60 32.96 L530.30 31.90 L531.00 30.87 L531.70 29.86 L532.39 28.87 L533.09 27.91 L533.79 26.97 L534.49 26.05 L535.19 25.16 L535.89 24.29 L536.58 23.44 L537.28 22.62 L537.98 21.83 L538.68 21.05 L539.38 20.30 L540.08 19.58 L540.77 18.88 L541.47 18.20 L542.17 17.55 L542.87 16.92 L543.57 16.32 L544.27 15.74 L544.96 15.18 L545.66 14.65 L546.36 14.15 L547.06 13.67 L547.76 13.21 L548.46 12.78 L549.15 12.37 L549.85 11.99 L550.55 11.63 L551.25 11.30 L551.95 10.99 L552.65 10.72 L553.35 10.48 L554.04 10.27 L554.74 10.11 L555.44 10.00 L556.14 9.94 L556.84 9.93 L557.53 9.97 L558.23 10.06 L558.93 10.20 L559.63 10.38 L560.33 10.61 L561.03 10.89 L561.72 11.20 L562.42 11.56 L563.12 11.96 L563.82 12.40 L564.52 12.88 L565.22 13.39 L565.91 13.94 L566.61 14.52 L567.31 15.14 L568.01 15.79 L568.71 16.47 L569.41 17.18 L570.11 17.92 L570.80 18.69 L571.50 19.48 L572.20 20.30 L572.90 21.14 L573.60 22.01 L574.29 22.90 L574.99 23.81 L575.69 24.74 L576.39 25.69 L577.09 26.67 L577.79 27.66 L578.48 28.68 L579.18 29.71 L579.88 30.76 L580.58 31.83 L581.28 32.91 L581.98 34.02 L582.67 35.14 L583.37 36.27 L584.07 37.42 L584.77 38.59 L585.47 39.77 L586.17 40.96 L586.87 42.16 L587.56 43.38 L588.26 44.61 L588.96 45.85 L589.66 47.10 L590.36 48.36 L591.05 49.63 L591.75 50.91 L592.45 52.20 L593.15 53.50 L593.85 54.80 L594.55 56.12 L595.24 57.43 L595.94 58.75 L596.64 60.08 L597.34 61.41 L598.04 62.75 L598.74 64.09 L599.43 65.42 L600.13 66.77 L600.83 68.11 L601.53 69.45 L602.23 70.79 L602.93 72.13 L603.62 73.46 L604.32 74.80 L605.02 76.13 L605.72 77.46 L606.42 78.78 L607.12 80.09 L607.81 81.40 L608.51 82.71 L609.21 84.00 L609.91 85.29 L610.61 86.57 L611.31 87.84 L612.00 89.09 L612.70 90.34 L613.40 91.58 L614.10 92.80 L614.80 94.01 L615.50 95.21 L616.19 96.39 L616.89 97.57 L617.59 98.73 L618.29 99.88 L618.99 101.02 L619.69 102.16 L620.38 103.28 L621.08 104.39 L621.78 105.49 L622.48 106.59 L623.18 107.68 L623.88 108.76 L624.57 109.83 L625.27 110.90 L625.97 111.96 L626.67 113.02 L627.37 114.07 L628.07 115.11 L628.76 116.15 L629.46 117.19 L630.16 118.22 L630.86 119.26 L631.56 120.28 L632.26 121.31 L632.95 122.33 L633.65 123.36 L634.35 124.38 L635.05 125.40" fill="none" stroke="#0a0af5" stroke-width="1.5" stroke-linejoin="round" stroke-linecap="round"/>
<circle cx="467.45" cy="136.00" r="3.5" fill="url(#gbody)"/><circle cx="466.55" cy="135.05" r="1.75" fill="url(#ghl)"/>
<circle cx="488.40" cy="107.30" r="3.5" fill="url(#gbody)"/><circle cx="487.50" cy="106.35" r="1.75" fill="url(#ghl)"/>
<circle cx="509.35" cy="69.80" r="3.5" fill="url(#gbody)"/><circle cx="508.45" cy="68.85" r="1.75" fill="url(#ghl)"/>
<circle cx="530.30" cy="31.90" r="3.5" fill="url(#gbody)"/><circle cx="529.40" cy="30.95" r="1.75" fill="url(#ghl)"/>
<circle cx="551.25" cy="11.30" r="3.5" fill="url(#gbody)"/><circle cx="550.35" cy="10.35" r="1.75" fill="url(#ghl)"/>
<circle cx="572.20" cy="20.30" r="3.5" fill="url(#gbody)"/><circle cx="571.30" cy="19.35" r="1.75" fill="url(#ghl)"/>
<circle cx="593.15" cy="53.50" r="3.5" fill="url(#gbody)"/><circle cx="592.25" cy="52.55" r="1.75" fill="url(#ghl)"/>
<circle cx="614.10" cy="92.80" r="3.5" fill="url(#gbody)"/><circle cx="613.20" cy="91.85" r="1.75" fill="url(#ghl)"/>
<circle cx="635.05" cy="125.40" r="3.5" fill="url(#gbody)"/><circle cx="634.15" cy="124.45" r="1.75" fill="url(#ghl)"/>
<path d="M48.45 201.50 L49.15 201.15 L49.85 200.80 L50.55 200.45 L51.24 200.10 L51.94 199.75 L52.64 199.40 L53.33 199.05 L54.03 198.70 L54.73 198.36 L55.42 198.02 L56.12 197.67 L56.82 197.33 L57.51 196.99 L58.21 196.66 L58.91 196.32 L59.60 195.99 L60.30 195.66 L61.00 195.34 L61.69 195.01 L62.39 194.69 L63.09 194.38 L63.79 194.06 L64.48 193.75 L65.18 193.45 L65.88 193.15 L66.57 192.85 L67.27 192.55 L67.97 192.26 L68.66 191.98 L69.36 191.70 L70.06 191.42 L70.75 191.16 L71.45 190.89 L72.15 190.63 L72.84 190.39 L73.54 190.14 L74.24 189.91 L74.93 189.68 L75.63 189.47 L76.33 189.26 L77.03 189.07 L77.72 188.88 L78.42 188.71 L79.12 188.55 L79.81 188.40 L80.51 188.27 L81.21 188.15 L81.90 188.04 L82.60 187.95 L83.30 187.88 L83.99 187.82 L84.69 187.77 L85.39 187.75 L86.08 187.74 L86.78 187.75 L87.48 187.78 L88.17 187.83 L88.87 187.90 L89.57 187.99 L90.27 188.10 L90.96 188.23 L91.66 188.39 L92.36 188.56 L93.05 188.76 L93.75 188.98 L94.45 189.22 L95.14 189.48 L95.84 189.76 L96.54 190.07 L97.23 190.40 L97.93 190.74 L98.63 191.11 L99.32 191.50 L100.02 191.92 L100.72 192.35 L101.41 192.80 L102.11 193.28 L102.81 193.78 L103.50 194.30 L104.20 194.84 L104.90 195.40 L105.60 195.98 L106.29 196.58 L106.99 197.21 L107.69 197.85 L108.38 198.52 L109.08 199.21 L109.78 199.92 L110.47 200.65 L111.17 201.40 L111.87 202.17 L112.56 202.96 L113.26 203.78 L113.96 204.61 L114.65 205.46 L115.35 206.33 L116.05 207.22 L116.74 208.12 L117.44 209.05 L118.14 209.99 L118.84 210.94 L119.53 211.92 L120.23 212.90 L120.93 213.91 L121.62 214.92 L122.32 215.95 L123.02 217.00 L123.71 218.06 L124.41 219.13 L125.11 220.21 L125.80 221.30 L126.50 222.41 L127.20 223.52 L127.89 224.65 L128.59 225.79 L129.29 226.93 L129.98 228.09 L130.68 229.25 L131.38 230.42 L132.07 231.60 L132.77 232.79 L133.47 233.98 L134.17 235.17 L134.86 236.38 L135.56 237.58 L136.26 238.79 L136.95 240.00 L137.65 241.21 L138.35 242.42 L139.04 243.63 L139.74 244.84 L140.44 246.04 L141.13 247.24 L141.83 248.44 L142.53 249.63 L143.22 250.82 L143.92 252.00 L144.62 253.17 L145.31 254.33 L146.01 255.49 L146.71 256.63 L147.41 257.76 L148.10 258.88 L148.80 259.99 L149.50 261.08 L150.19 262.16 L150.89 263.22 L151.59 264.26 L152.28 265.29 L152.98 266.30 L153.68 267.29 L154.37 268.26 L155.07 269.21 L155.77 270.14 L156.46 271.06 L157.16 271.95 L157.86 272.82 L158.55 273.68 L159.25 274.51 L159.95 275.32 L160.65 276.11 L161.34 276.89 L162.04 277.64 L162.74 278.37 L163.43 279.08 L164.13 279.77 L164.83 280.44 L165.52 281.09 L166.22 281.71 L166.92 282.32 L167.61 282.91 L168.31 283.47 L169.01 284.01 L169.70 284.53 L170.40 285.03 L171.10 285.51 L171.79 285.96 L172.49 286.40 L173.19 286.81 L173.89 287.20 L174.58 287.57 L175.28 287.91 L175.98 288.24 L176.67 288.54 L177.37 288.82 L178.07 289.08 L178.76 289.32 L179.46 289.54 L180.16 289.74 L180.85 289.92 L181.55 290.08 L182.25 290.22 L182.94 290.34 L183.64 290.44 L184.34 290.52 L185.03 290.59 L185.73 290.63 L186.43 290.66 L187.12 290.67 L187.82 290.67 L188.52 290.64 L189.22 290.60 L189.91 290.54 L190.61 290.47 L191.31 290.38 L192.00 290.28 L192.70 290.15 L193.40 290.02 L194.09 289.87 L194.79 289.70 L195.49 289.52 L196.18 289.32 L196.88 289.11 L197.58 288.89 L198.27 288.66 L198.97 288.41 L199.67 288.15 L200.36 287.88 L201.06 287.60 L201.76 287.31 L202.46 287.01 L203.15 286.70 L203.85 286.38 L204.55 286.06 L205.24 285.72 L205.94 285.38 L206.64 285.03 L207.33 284.68 L208.03 284.32 L208.73 283.95 L209.42 283.58 L210.12 283.20 L210.82 282.82 L211.51 282.44 L212.21 282.06 L212.91 281.67 L213.60 281.28 L214.30 280.89 L215.00 280.49 L215.69 280.10" fill="none" stroke="#8000fa" stroke-width="1.5" stroke-linejoin="round" stroke-linecap="round"/>
<polygon points="48.45,198.05 49.40,200.21 51.74,200.43 49.98,201.99 50.48,204.29 48.45,203.10 46.43,204.29 46.93,201.99 45.17,200.43 47.51,200.21" fill="#000094" stroke="#2020a0" stroke-width="0.4" stroke-linejoin="miter"/>
<polygon points="69.36,188.25 70.30,190.41 72.64,190.63 70.88,192.19 71.39,194.49 69.36,193.30 67.33,194.49 67.84,192.19 66.08,190.63 68.42,190.41" fill="#000094" stroke="#2020a0" stroke-width="0.4" stroke-linejoin="miter"/>
<polygon points="90.26,184.65 91.21,186.81 93.55,187.03 91.79,188.59 92.29,190.89 90.26,189.70 88.24,190.89 88.74,188.59 86.98,187.03 89.32,186.81" fill="#000094" stroke="#2020a0" stroke-width="0.4" stroke-linejoin="miter"/>
<polygon points="111.17,197.95 112.11,200.11 114.45,200.33 112.69,201.89 113.20,204.19 111.17,203.00 109.14,204.19 109.65,201.89 107.89,200.33 110.23,200.11" fill="#000094" stroke="#2020a0" stroke-width="0.4" stroke-linejoin="miter"/>
<polygon points="132.07,228.15 133.02,230.31 135.36,230.53 133.60,232.09 134.10,234.39 132.07,233.20 130.05,234.39 130.55,232.09 128.79,230.53 131.13,230.31" fill="#000094" stroke="#2020a0" stroke-width="0.4" stroke-linejoin="miter"/>
<polygon points="152.98,262.85 153.92,265.01 156.26,265.23 154.50,266.79 155.01,269.09 152.98,267.90 150.95,269.09 151.46,266.79 149.70,265.23 152.04,265.01" fill="#000094" stroke="#2020a0" stroke-width="0.4" stroke-linejoin="miter"/>
<polygon points="173.88,283.75 174.83,285.91 177.17,286.13 175.41,287.69 175.91,289.99 173.88,288.80 171.86,289.99 172.36,287.69 170.60,286.13 172.94,285.91" fill="#000094" stroke="#2020a0" stroke-width="0.4" stroke-linejoin="miter"/>
<polygon points="194.79,286.25 195.73,288.41 198.07,288.63 196.31,290.19 196.82,292.49 194.79,291.30 192.76,292.49 193.27,290.19 191.51,288.63 193.85,288.41" fill="#000094" stroke="#2020a0" stroke-width="0.4" stroke-linejoin="miter"/>
<polygon points="215.69,276.65 216.64,278.81 218.98,279.03 217.22,280.59 217.72,282.89 215.69,281.70 213.67,282.89 214.17,280.59 212.41,279.03 214.75,278.81" fill="#000094" stroke="#2020a0" stroke-width="0.4" stroke-linejoin="miter"/>
<polygon points="136.26,235.55 137.20,237.71 139.54,237.93 137.78,239.49 138.28,241.79 136.26,240.60 134.23,241.79 134.73,239.49 132.97,237.93 135.32,237.71" fill="#000094" stroke="#2020a0" stroke-width="0.4" stroke-linejoin="miter"/>
<g fill="none">
<line x1="27.55" y1="239.00" x2="137.51" y2="239.00" stroke="#f00808" stroke-opacity="0.82" stroke-width="1.5" stroke-dasharray="3.2 1.52"/>
<line x1="137.10" y1="240.35" x2="137.10" y2="308.70" stroke="#f00808" stroke-opacity="0.82" stroke-width="2.4" stroke-dasharray="2.4 2.15"/>
</g>
<path d="M48.45 201.90 L49.15 201.32 L49.85 200.74 L50.55 200.16 L51.24 199.58 L51.94 199.00 L52.64 198.42 L53.33 197.85 L54.03 197.27 L54.73 196.70 L55.42 196.13 L56.12 195.56 L56.82 195.00 L57.51 194.44 L58.21 193.88 L58.91 193.32 L59.60 192.77 L60.30 192.23 L61.00 191.68 L61.69 191.14 L62.39 190.61 L63.09 190.08 L63.79 189.56 L64.48 189.04 L65.18 188.53 L65.88 188.03 L66.57 187.53 L67.27 187.04 L67.97 186.55 L68.66 186.07 L69.36 185.60 L70.06 185.14 L70.75 184.68 L71.45 184.23 L72.15 183.79 L72.84 183.36 L73.54 182.93 L74.24 182.51 L74.93 182.10 L75.63 181.69 L76.33 181.29 L77.03 180.90 L77.72 180.51 L78.42 180.13 L79.12 179.76 L79.81 179.39 L80.51 179.03 L81.21 178.68 L81.90 178.33 L82.60 177.99 L83.30 177.65 L83.99 177.32 L84.69 177.00 L85.39 176.68 L86.08 176.37 L86.78 176.06 L87.48 175.76 L88.17 175.46 L88.87 175.17 L89.57 174.88 L90.27 174.60 L90.96 174.32 L91.66 174.06 L92.36 173.83 L93.05 173.62 L93.75 173.46 L94.45 173.35 L95.14 173.30 L95.84 173.32 L96.54 173.41 L97.23 173.57 L97.93 173.78 L98.63 174.06 L99.32 174.39 L100.02 174.77 L100.72 175.20 L101.41 175.67 L102.11 176.18 L102.81 176.73 L103.50 177.31 L104.20 177.92 L104.90 178.56 L105.60 179.22 L106.29 179.92 L106.99 180.64 L107.69 181.39 L108.38 182.17 L109.08 182.98 L109.78 183.82 L110.47 184.69 L111.17 185.60 L111.87 186.54 L112.56 187.52 L113.26 188.52 L113.96 189.56 L114.65 190.63 L115.35 191.74 L116.05 192.87 L116.74 194.03 L117.44 195.22 L118.14 196.43 L118.84 197.68 L119.53 198.95 L120.23 200.24 L120.93 201.56 L121.62 202.91 L122.32 204.27 L123.02 205.66 L123.71 207.08 L124.41 208.51 L125.11 209.97 L125.80 211.44 L126.50 212.94 L127.20 214.45 L127.89 215.98 L128.59 217.53 L129.29 219.09 L129.98 220.67 L130.68 222.27 L131.38 223.88 L132.07 225.50 L132.77 227.14 L133.47 228.78 L134.17 230.44 L134.86 232.11 L135.56 233.78 L136.26 235.46 L136.95 237.15 L137.65 238.83 L138.35 240.52 L139.04 242.21 L139.74 243.90 L140.44 245.59 L141.13 247.27 L141.83 248.95 L142.53 250.62 L143.22 252.28 L143.92 253.93 L144.62 255.57 L145.31 257.20 L146.01 258.82 L146.71 260.42 L147.41 262.00 L148.10 263.57 L148.80 265.11 L149.50 266.64 L150.19 268.14 L150.89 269.62 L151.59 271.07 L152.28 272.50 L152.98 273.90 L153.68 275.27 L154.37 276.61 L155.07 277.92 L155.77 279.20 L156.46 280.46 L157.16 281.68 L157.86 282.87 L158.55 284.03 L159.25 285.15 L159.95 286.25 L160.65 287.31 L161.34 288.35 L162.04 289.35 L162.74 290.32 L163.43 291.25 L164.13 292.15 L164.83 293.02 L165.52 293.86 L166.22 294.66 L166.92 295.43 L167.61 296.16 L168.31 296.86 L169.01 297.53 L169.70 298.16 L170.40 298.76 L171.10 299.32 L171.79 299.84 L172.49 300.33 L173.19 300.78 L173.89 301.20 L174.58 301.58 L175.28 301.93 L175.98 302.23 L176.67 302.51 L177.37 302.75 L178.07 302.96 L178.76 303.14 L179.46 303.29 L180.16 303.40 L180.85 303.49 L181.55 303.55 L182.25 303.58 L182.94 303.58 L183.64 303.56 L184.34 303.51 L185.03 303.43 L185.73 303.33 L186.43 303.21 L187.12 303.07 L187.82 302.90 L188.52 302.71 L189.22 302.50 L189.91 302.28 L190.61 302.03 L191.31 301.76 L192.00 301.48 L192.70 301.19 L193.40 300.87 L194.09 300.54 L194.79 300.20 L195.49 299.84 L196.18 299.47 L196.88 299.09 L197.58 298.70 L198.27 298.29 L198.97 297.88 L199.67 297.45 L200.36 297.01 L201.06 296.57 L201.76 296.11 L202.46 295.64 L203.15 295.17 L203.85 294.69 L204.55 294.20 L205.24 293.70 L205.94 293.20 L206.64 292.69 L207.33 292.17 L208.03 291.65 L208.73 291.13 L209.42 290.60 L210.12 290.06 L210.82 289.53 L211.51 288.99 L212.21 288.44 L212.91 287.90 L213.60 287.35 L214.30 286.80 L215.00 286.25 L215.69 285.70" fill="none" stroke="#0a0af5" stroke-width="1.5" stroke-linejoin="round" stroke-linecap="round"/>
<circle cx="48.45" cy="201.90" r="3.5" fill="url(#gbody)"/><circle cx="47.55" cy="200.95" r="1.75" fill="url(#ghl)"/>
<circle cx="69.36" cy="185.60" r="3.5" fill="url(#gbody)"/><circle cx="68.46" cy="184.65" r="1.75" fill="url(#ghl)"/>
<circle cx="90.26" cy="174.60" r="3.5" fill="url(#gbody)"/><circle cx="89.36" cy="173.65" r="1.75" fill="url(#ghl)"/>
<circle cx="111.17" cy="185.60" r="3.5" fill="url(#gbody)"/><circle cx="110.27" cy="184.65" r="1.75" fill="url(#ghl)"/>
<circle cx="132.07" cy="225.50" r="3.5" fill="url(#gbody)"/><circle cx="131.17" cy="224.55" r="1.75" fill="url(#ghl)"/>
<circle cx="152.98" cy="273.90" r="3.5" fill="url(#gbody)"/><circle cx="152.08" cy="272.95" r="1.75" fill="url(#ghl)"/>
<circle cx="173.88" cy="301.20" r="3.5" fill="url(#gbody)"/><circle cx="172.98" cy="300.25" r="1.75" fill="url(#ghl)"/>
<circle cx="194.79" cy="300.20" r="3.5" fill="url(#gbody)"/><circle cx="193.89" cy="299.25" r="1.75" fill="url(#ghl)"/>
<circle cx="215.69" cy="285.70" r="3.5" fill="url(#gbody)"/><circle cx="214.79" cy="284.75" r="1.75" fill="url(#ghl)"/>
<circle cx="137.51" cy="239.00" r="3.5" fill="url(#gbody)"/><circle cx="136.61" cy="238.05" r="1.75" fill="url(#ghl)"/>
<path d="M257.59 191.70 L258.29 189.39 L258.99 187.09 L259.69 184.83 L260.39 182.61 L261.09 180.46 L261.79 178.38 L262.49 176.41 L263.19 174.54 L263.89 172.81 L264.59 171.22 L265.29 169.78 L265.99 168.49 L266.69 167.34 L267.39 166.33 L268.08 165.44 L268.78 164.69 L269.48 164.04 L270.18 163.51 L270.88 163.09 L271.58 162.76 L272.28 162.52 L272.98 162.37 L273.68 162.30 L274.38 162.31 L275.08 162.39 L275.78 162.57 L276.48 162.84 L277.18 163.21 L277.88 163.69 L278.58 164.30 L279.28 165.03 L279.98 165.89 L280.68 166.88 L281.38 167.98 L282.08 169.20 L282.78 170.52 L283.48 171.96 L284.18 173.50 L284.88 175.15 L285.58 176.88 L286.28 178.72 L286.98 180.64 L287.68 182.65 L288.38 184.75 L289.07 186.92 L289.77 189.17 L290.47 191.49 L291.17 193.88 L291.87 196.33 L292.57 198.85 L293.27 201.42 L293.97 204.05 L294.67 206.73 L295.37 209.45 L296.07 212.22 L296.77 215.03 L297.47 217.88 L298.17 220.76 L298.87 223.67 L299.57 226.60 L300.27 229.56 L300.97 232.53 L301.67 235.51 L302.37 238.50 L303.07 241.50 L303.77 244.48 L304.47 247.46 L305.17 250.43 L305.87 253.38 L306.57 256.30 L307.27 259.20 L307.97 262.05 L308.67 264.87 L309.37 267.65 L310.06 270.38 L310.76 273.05 L311.46 275.66 L312.16 278.20 L312.86 280.68 L313.56 283.08 L314.26 285.40 L314.96 287.63 L315.66 289.77 L316.36 291.82 L317.06 293.77 L317.76 295.61 L318.46 297.33 L319.16 298.95 L319.86 300.44 L320.56 301.80 L321.26 303.03 L321.96 304.14 L322.66 305.13 L323.36 306.00 L324.06 306.76 L324.76 307.42 L325.46 307.98 L326.16 308.45 L326.86 308.84 L327.56 309.14 L328.26 309.36 L328.96 309.52 L329.66 309.61 L330.36 309.65 L331.06 309.63 L331.75 309.57 L332.45 309.46 L333.15 309.31 L333.85 309.13 L334.55 308.90 L335.25 308.63 L335.95 308.33 L336.65 308.00 L337.35 307.63 L338.05 307.23 L338.75 306.80 L339.45 306.34 L340.15 305.85 L340.85 305.34 L341.55 304.80 L342.25 304.24 L342.95 303.65 L343.65 303.05 L344.35 302.42 L345.05 301.78 L345.75 301.12 L346.45 300.44 L347.15 299.75 L347.85 299.05 L348.55 298.34 L349.25 297.61 L349.95 296.88 L350.65 296.14 L351.35 295.39 L352.04 294.64 L352.74 293.89 L353.44 293.13 L354.14 292.37 L354.84 291.61 L355.54 290.86 L356.24 290.11 L356.94 289.36 L357.64 288.62 L358.34 287.88 L359.04 287.16 L359.74 286.44 L360.44 285.73 L361.14 285.04 L361.84 284.36 L362.54 283.70 L363.24 283.05 L363.94 282.42 L364.64 281.81 L365.34 281.21 L366.04 280.63 L366.74 280.06 L367.44 279.50 L368.14 278.97 L368.84 278.44 L369.54 277.93 L370.24 277.43 L370.94 276.95 L371.64 276.48 L372.34 276.02 L373.03 275.58 L373.73 275.14 L374.43 274.72 L375.13 274.31 L375.83 273.92 L376.53 273.53 L377.23 273.15 L377.93 272.79 L378.63 272.43 L379.33 272.08 L380.03 271.75 L380.73 271.42 L381.43 271.10 L382.13 270.79 L382.83 270.49 L383.53 270.20 L384.23 269.91 L384.93 269.64 L385.63 269.37 L386.33 269.11 L387.03 268.86 L387.73 268.61 L388.43 268.38 L389.13 268.15 L389.83 267.94 L390.53 267.73 L391.23 267.53 L391.93 267.35 L392.63 267.17 L393.33 267.01 L394.02 266.85 L394.72 266.70 L395.42 266.57 L396.12 266.45 L396.82 266.33 L397.52 266.23 L398.22 266.15 L398.92 266.07 L399.62 266.00 L400.32 265.95 L401.02 265.91 L401.72 265.88 L402.42 265.87 L403.12 265.86 L403.82 265.88 L404.52 265.90 L405.22 265.94 L405.92 265.99 L406.62 266.05 L407.32 266.13 L408.02 266.22 L408.72 266.31 L409.42 266.42 L410.12 266.54 L410.82 266.67 L411.52 266.81 L412.22 266.96 L412.92 267.12 L413.62 267.28 L414.32 267.46 L415.01 267.64 L415.71 267.82 L416.41 268.02 L417.11 268.22 L417.81 268.42 L418.51 268.63 L419.21 268.85 L419.91 269.06 L420.61 269.28 L421.31 269.51 L422.01 269.74 L422.71 269.97 L423.41 270.20 L424.11 270.43 L424.81 270.67 L425.51 270.90" fill="none" stroke="#8000fa" stroke-width="1.5" stroke-linejoin="round" stroke-linecap="round"/>
<polygon points="257.59,188.25 258.53,190.41 260.87,190.63 259.11,192.19 259.62,194.49 257.59,193.30 255.56,194.49 256.07,192.19 254.31,190.63 256.65,190.41" fill="#000094" stroke="#2020a0" stroke-width="0.4" stroke-linejoin="miter"/>
<polygon points="278.58,160.85 279.52,163.01 281.86,163.23 280.10,164.79 280.61,167.09 278.58,165.90 276.55,167.09 277.06,164.79 275.30,163.23 277.64,163.01" fill="#000094" stroke="#2020a0" stroke-width="0.4" stroke-linejoin="miter"/>
<polygon points="299.57,223.15 300.51,225.31 302.85,225.53 301.09,227.09 301.60,229.39 299.57,228.20 297.54,229.39 298.05,227.09 296.29,225.53 298.63,225.31" fill="#000094" stroke="#2020a0" stroke-width="0.4" stroke-linejoin="miter"/>
<polygon points="320.56,298.35 321.50,300.51 323.84,300.73 322.08,302.29 322.59,304.59 320.56,303.40 318.53,304.59 319.04,302.29 317.28,300.73 319.62,300.51" fill="#000094" stroke="#2020a0" stroke-width="0.4" stroke-linejoin="miter"/>
<polygon points="341.55,301.35 342.49,303.51 344.83,303.73 343.07,305.29 343.58,307.59 341.55,306.40 339.52,307.59 340.03,305.29 338.27,303.73 340.61,303.51" fill="#000094" stroke="#2020a0" stroke-width="0.4" stroke-linejoin="miter"/>
<polygon points="362.54,280.25 363.48,282.41 365.82,282.63 364.06,284.19 364.57,286.49 362.54,285.30 360.51,286.49 361.02,284.19 359.26,282.63 361.60,282.41" fill="#000094" stroke="#2020a0" stroke-width="0.4" stroke-linejoin="miter"/>
<polygon points="383.53,266.75 384.47,268.91 386.81,269.13 385.05,270.69 385.56,272.99 383.53,271.80 381.50,272.99 382.01,270.69 380.25,269.13 382.59,268.91" fill="#000094" stroke="#2020a0" stroke-width="0.4" stroke-linejoin="miter"/>
<polygon points="404.52,262.45 405.46,264.61 407.80,264.83 406.04,266.39 406.55,268.69 404.52,267.50 402.49,268.69 403.00,266.39 401.24,264.83 403.58,264.61" fill="#000094" stroke="#2020a0" stroke-width="0.4" stroke-linejoin="miter"/>
<polygon points="425.51,267.45 426.45,269.61 428.79,269.83 427.03,271.39 427.54,273.69 425.51,272.50 423.48,273.69 423.99,271.39 422.23,269.83 424.57,269.61" fill="#000094" stroke="#2020a0" stroke-width="0.4" stroke-linejoin="miter"/>
<polygon points="303.77,243.05 304.71,245.21 307.05,245.43 305.29,246.99 305.80,249.29 303.77,248.10 301.74,249.29 302.25,246.99 300.49,245.43 302.83,245.21" fill="#000094" stroke="#2020a0" stroke-width="0.4" stroke-linejoin="miter"/>
<g fill="none">
<line x1="236.60" y1="246.50" x2="314.26" y2="246.50" stroke="#f00808" stroke-opacity="0.82" stroke-width="1.5" stroke-dasharray="3.2 1.52"/>
<line x1="303.77" y1="251.20" x2="303.77" y2="311.30" stroke="#f00808" stroke-opacity="0.82" stroke-width="1.3" stroke-dasharray="3.1 2.05"/>
<line x1="314.26" y1="251.20" x2="314.26" y2="311.30" stroke="#f00808" stroke-opacity="0.82" stroke-width="1.3" stroke-dasharray="3.1 2.05"/>
</g>
<path d="M257.59 212.20 L258.29 210.95 L258.99 209.70 L259.69 208.45 L260.39 207.21 L261.09 205.98 L261.79 204.76 L262.49 203.55 L263.19 202.35 L263.89 201.16 L264.59 200.00 L265.29 198.85 L265.99 197.72 L266.69 196.62 L267.39 195.53 L268.08 194.48 L268.78 193.45 L269.48 192.46 L270.18 191.49 L270.88 190.56 L271.58 189.67 L272.28 188.81 L272.98 188.00 L273.68 187.22 L274.38 186.49 L275.08 185.80 L275.78 185.16 L276.48 184.56 L277.18 184.02 L277.88 183.53 L278.58 183.10 L279.28 182.72 L279.98 182.40 L280.68 182.14 L281.38 181.93 L282.08 181.79 L282.78 181.71 L283.48 181.68 L284.18 181.73 L284.88 181.83 L285.58 182.00 L286.28 182.23 L286.98 182.53 L287.68 182.90 L288.38 183.33 L289.07 183.83 L289.77 184.40 L290.47 185.05 L291.17 185.76 L291.87 186.55 L292.57 187.41 L293.27 188.34 L293.97 189.35 L294.67 190.43 L295.37 191.59 L296.07 192.82 L296.77 194.14 L297.47 195.53 L298.17 197.01 L298.87 198.56 L299.57 200.20 L300.27 201.92 L300.97 203.71 L301.67 205.58 L302.37 207.52 L303.07 209.52 L303.77 211.58 L304.47 213.69 L305.17 215.85 L305.87 218.05 L306.57 220.30 L307.27 222.57 L307.97 224.88 L308.67 227.20 L309.37 229.55 L310.06 231.91 L310.76 234.28 L311.46 236.66 L312.16 239.03 L312.86 241.40 L313.56 243.76 L314.26 246.10 L314.96 248.43 L315.66 250.73 L316.36 252.99 L317.06 255.23 L317.76 257.42 L318.46 259.57 L319.16 261.67 L319.86 263.71 L320.56 265.70 L321.26 267.62 L321.96 269.48 L322.66 271.28 L323.36 273.01 L324.06 274.68 L324.76 276.29 L325.46 277.84 L326.16 279.32 L326.86 280.75 L327.56 282.11 L328.26 283.42 L328.96 284.67 L329.66 285.86 L330.36 286.99 L331.06 288.06 L331.75 289.08 L332.45 290.04 L333.15 290.95 L333.85 291.79 L334.55 292.59 L335.25 293.33 L335.95 294.01 L336.65 294.64 L337.35 295.22 L338.05 295.75 L338.75 296.22 L339.45 296.64 L340.15 297.01 L340.85 297.33 L341.55 297.60 L342.25 297.82 L342.95 297.99 L343.65 298.12 L344.35 298.20 L345.05 298.23 L345.75 298.23 L346.45 298.19 L347.15 298.11 L347.85 297.99 L348.55 297.84 L349.25 297.65 L349.95 297.44 L350.65 297.20 L351.35 296.93 L352.04 296.63 L352.74 296.31 L353.44 295.97 L354.14 295.61 L354.84 295.22 L355.54 294.83 L356.24 294.41 L356.94 293.99 L357.64 293.55 L358.34 293.10 L359.04 292.64 L359.74 292.18 L360.44 291.71 L361.14 291.24 L361.84 290.77 L362.54 290.30 L363.24 289.83 L363.94 289.36 L364.64 288.90 L365.34 288.44 L366.04 287.98 L366.74 287.52 L367.44 287.07 L368.14 286.62 L368.84 286.18 L369.54 285.74 L370.24 285.30 L370.94 284.87 L371.64 284.44 L372.34 284.02 L373.03 283.60 L373.73 283.19 L374.43 282.78 L375.13 282.38 L375.83 281.99 L376.53 281.60 L377.23 281.22 L377.93 280.84 L378.63 280.47 L379.33 280.11 L380.03 279.76 L380.73 279.41 L381.43 279.07 L382.13 278.74 L382.83 278.42 L383.53 278.10 L384.23 277.79 L384.93 277.49 L385.63 277.20 L386.33 276.92 L387.03 276.65 L387.73 276.39 L388.43 276.14 L389.13 275.89 L389.83 275.66 L390.53 275.43 L391.23 275.22 L391.93 275.01 L392.63 274.82 L393.33 274.63 L394.02 274.46 L394.72 274.30 L395.42 274.14 L396.12 274.00 L396.82 273.87 L397.52 273.75 L398.22 273.64 L398.92 273.55 L399.62 273.46 L400.32 273.39 L401.02 273.33 L401.72 273.28 L402.42 273.24 L403.12 273.21 L403.82 273.20 L404.52 273.20 L405.22 273.21 L405.92 273.24 L406.62 273.27 L407.32 273.32 L408.02 273.38 L408.72 273.45 L409.42 273.53 L410.12 273.62 L410.82 273.72 L411.52 273.83 L412.22 273.94 L412.92 274.07 L413.62 274.20 L414.32 274.34 L415.01 274.48 L415.71 274.64 L416.41 274.79 L417.11 274.96 L417.81 275.13 L418.51 275.30 L419.21 275.48 L419.91 275.66 L420.61 275.85 L421.31 276.03 L422.01 276.22 L422.71 276.42 L423.41 276.61 L424.11 276.81 L424.81 277.00 L425.51 277.20" fill="none" stroke="#0a0af5" stroke-width="1.5" stroke-linejoin="round" stroke-linecap="round"/>
<circle cx="257.59" cy="212.20" r="3.5" fill="url(#gbody)"/><circle cx="256.69" cy="211.25" r="1.75" fill="url(#ghl)"/>
<circle cx="278.58" cy="183.10" r="3.5" fill="url(#gbody)"/><circle cx="277.68" cy="182.15" r="1.75" fill="url(#ghl)"/>
<circle cx="299.57" cy="200.20" r="3.5" fill="url(#gbody)"/><circle cx="298.67" cy="199.25" r="1.75" fill="url(#ghl)"/>
<circle cx="320.56" cy="265.70" r="3.5" fill="url(#gbody)"/><circle cx="319.66" cy="264.75" r="1.75" fill="url(#ghl)"/>
<circle cx="341.55" cy="297.60" r="3.5" fill="url(#gbody)"/><circle cx="340.65" cy="296.65" r="1.75" fill="url(#ghl)"/>
<circle cx="362.54" cy="290.30" r="3.5" fill="url(#gbody)"/><circle cx="361.64" cy="289.35" r="1.75" fill="url(#ghl)"/>
<circle cx="383.53" cy="278.10" r="3.5" fill="url(#gbody)"/><circle cx="382.63" cy="277.15" r="1.75" fill="url(#ghl)"/>
<circle cx="404.52" cy="273.20" r="3.5" fill="url(#gbody)"/><circle cx="403.62" cy="272.25" r="1.75" fill="url(#ghl)"/>
<circle cx="425.51" cy="277.20" r="3.5" fill="url(#gbody)"/><circle cx="424.61" cy="276.25" r="1.75" fill="url(#ghl)"/>
<circle cx="314.26" cy="246.50" r="3.5" fill="url(#gbody)"/><circle cx="313.36" cy="245.55" r="1.75" fill="url(#ghl)"/>
<path d="M467.45 198.20 L468.15 197.67 L468.85 197.13 L469.55 196.60 L470.24 196.07 L470.94 195.54 L471.64 195.01 L472.34 194.49 L473.04 193.97 L473.74 193.46 L474.43 192.95 L475.13 192.45 L475.83 191.96 L476.53 191.47 L477.23 190.99 L477.93 190.52 L478.62 190.06 L479.32 189.61 L480.02 189.16 L480.72 188.73 L481.42 188.32 L482.12 187.91 L482.81 187.51 L483.51 187.13 L484.21 186.77 L484.91 186.42 L485.61 186.08 L486.31 185.76 L487.00 185.46 L487.70 185.17 L488.40 184.90 L489.10 184.65 L489.80 184.41 L490.50 184.20 L491.19 183.99 L491.89 183.80 L492.59 183.62 L493.29 183.46 L493.99 183.30 L494.69 183.15 L495.38 183.00 L496.08 182.86 L496.78 182.73 L497.48 182.60 L498.18 182.47 L498.88 182.34 L499.57 182.22 L500.27 182.11 L500.97 182.00 L501.67 181.90 L502.37 181.82 L503.06 181.74 L503.76 181.68 L504.46 181.64 L505.16 181.61 L505.86 181.60 L506.56 181.61 L507.25 181.64 L507.95 181.69 L508.65 181.78 L509.35 181.90 L510.05 182.05 L510.75 182.24 L511.44 182.47 L512.14 182.73 L512.84 183.03 L513.54 183.35 L514.24 183.72 L514.94 184.11 L515.63 184.54 L516.33 185.00 L517.03 185.50 L517.73 186.02 L518.43 186.58 L519.13 187.16 L519.82 187.78 L520.52 188.43 L521.22 189.11 L521.92 189.81 L522.62 190.55 L523.32 191.31 L524.01 192.10 L524.71 192.92 L525.41 193.76 L526.11 194.63 L526.81 195.53 L527.51 196.46 L528.20 197.40 L528.90 198.38 L529.60 199.38 L530.30 200.40 L531.00 201.45 L531.70 202.52 L532.39 203.61 L533.09 204.72 L533.79 205.86 L534.49 207.01 L535.19 208.18 L535.89 209.38 L536.58 210.59 L537.28 211.81 L537.98 213.06 L538.68 214.32 L539.38 215.59 L540.08 216.88 L540.77 218.19 L541.47 219.50 L542.17 220.83 L542.87 222.17 L543.57 223.52 L544.27 224.89 L544.96 226.26 L545.66 227.64 L546.36 229.02 L547.06 230.42 L547.76 231.82 L548.46 233.23 L549.15 234.64 L549.85 236.06 L550.55 237.48 L551.25 238.90 L551.95 240.33 L552.65 241.75 L553.35 243.18 L554.04 244.61 L554.74 246.03 L555.44 247.45 L556.14 248.87 L556.84 250.28 L557.53 251.69 L558.23 253.09 L558.93 254.48 L559.63 255.86 L560.33 257.23 L561.03 258.59 L561.72 259.94 L562.42 261.28 L563.12 262.60 L563.82 263.91 L564.52 265.19 L565.22 266.47 L565.91 267.72 L566.61 268.95 L567.31 270.17 L568.01 271.36 L568.71 272.53 L569.41 273.67 L570.11 274.80 L570.80 275.89 L571.50 276.96 L572.20 278.00 L572.90 279.01 L573.60 280.00 L574.29 280.95 L574.99 281.88 L575.69 282.77 L576.39 283.64 L577.09 284.48 L577.79 285.30 L578.48 286.08 L579.18 286.84 L579.88 287.56 L580.58 288.26 L581.28 288.93 L581.98 289.58 L582.67 290.19 L583.37 290.78 L584.07 291.34 L584.77 291.87 L585.47 292.37 L586.17 292.85 L586.87 293.30 L587.56 293.72 L588.26 294.11 L588.96 294.48 L589.66 294.82 L590.36 295.13 L591.05 295.41 L591.75 295.67 L592.45 295.90 L593.15 296.10 L593.85 296.28 L594.55 296.42 L595.24 296.55 L595.94 296.65 L596.64 296.72 L597.34 296.77 L598.04 296.79 L598.74 296.80 L599.43 296.78 L600.13 296.74 L600.83 296.68 L601.53 296.59 L602.23 296.49 L602.93 296.37 L603.62 296.23 L604.32 296.07 L605.02 295.90 L605.72 295.71 L606.42 295.50 L607.12 295.27 L607.81 295.03 L608.51 294.78 L609.21 294.51 L609.91 294.23 L610.61 293.94 L611.31 293.63 L612.00 293.31 L612.70 292.99 L613.40 292.65 L614.10 292.30 L614.80 291.94 L615.50 291.58 L616.19 291.20 L616.89 290.82 L617.59 290.43 L618.29 290.03 L618.99 289.63 L619.69 289.21 L620.38 288.80 L621.08 288.37 L621.78 287.94 L622.48 287.50 L623.18 287.06 L623.88 286.61 L624.57 286.16 L625.27 285.70 L625.97 285.24 L626.67 284.78 L627.37 284.31 L628.07 283.84 L628.76 283.36 L629.46 282.88 L630.16 282.40 L630.86 281.92 L631.56 281.44 L632.26 280.95 L632.95 280.46 L633.65 279.98 L634.35 279.49 L635.05 279.00" fill="none" stroke="#8000fa" stroke-width="1.5" stroke-linejoin="round" stroke-linecap="round"/>
<polygon points="467.45,194.75 468.39,196.91 470.73,197.13 468.97,198.69 469.48,200.99 467.45,199.80 465.42,200.99 465.93,198.69 464.17,197.13 466.51,196.91" fill="#000094" stroke="#2020a0" stroke-width="0.4" stroke-linejoin="miter"/>
<polygon points="488.40,181.45 489.34,183.61 491.68,183.83 489.92,185.39 490.43,187.69 488.40,186.50 486.37,187.69 486.88,185.39 485.12,183.83 487.46,183.61" fill="#000094" stroke="#2020a0" stroke-width="0.4" stroke-linejoin="miter"/>
<polygon points="509.35,178.45 510.29,180.61 512.63,180.83 510.87,182.39 511.38,184.69 509.35,183.50 507.32,184.69 507.83,182.39 506.07,180.83 508.41,180.61" fill="#000094" stroke="#2020a0" stroke-width="0.4" stroke-linejoin="miter"/>
<polygon points="530.30,196.95 531.24,199.11 533.58,199.33 531.82,200.89 532.33,203.19 530.30,202.00 528.27,203.19 528.78,200.89 527.02,199.33 529.36,199.11" fill="#000094" stroke="#2020a0" stroke-width="0.4" stroke-linejoin="miter"/>
<polygon points="551.25,235.45 552.19,237.61 554.53,237.83 552.77,239.39 553.28,241.69 551.25,240.50 549.22,241.69 549.73,239.39 547.97,237.83 550.31,237.61" fill="#000094" stroke="#2020a0" stroke-width="0.4" stroke-linejoin="miter"/>
<polygon points="572.20,274.55 573.14,276.71 575.48,276.93 573.72,278.49 574.23,280.79 572.20,279.60 570.17,280.79 570.68,278.49 568.92,276.93 571.26,276.71" fill="#000094" stroke="#2020a0" stroke-width="0.4" stroke-linejoin="miter"/>
<polygon points="593.15,292.65 594.09,294.81 596.43,295.03 594.67,296.59 595.18,298.89 593.15,297.70 591.12,298.89 591.63,296.59 589.87,295.03 592.21,294.81" fill="#000094" stroke="#2020a0" stroke-width="0.4" stroke-linejoin="miter"/>
<polygon points="614.10,288.85 615.04,291.01 617.38,291.23 615.62,292.79 616.13,295.09 614.10,293.90 612.07,295.09 612.58,292.79 610.82,291.23 613.16,291.01" fill="#000094" stroke="#2020a0" stroke-width="0.4" stroke-linejoin="miter"/>
<polygon points="635.05,275.55 635.99,277.71 638.33,277.93 636.57,279.49 637.08,281.79 635.05,280.60 633.02,281.79 633.53,279.49 631.77,277.93 634.11,277.71" fill="#000094" stroke="#2020a0" stroke-width="0.4" stroke-linejoin="miter"/>
<g fill="none">
<line x1="555.34" y1="238.90" x2="656.00" y2="238.90" stroke="#f00808" stroke-opacity="0.82" stroke-width="1.5" stroke-dasharray="3.2 1.52"/>
<line x1="551.35" y1="240.88" x2="551.35" y2="311.30" stroke="#f00808" stroke-opacity="0.82" stroke-width="1.3" stroke-dasharray="3.05 1.67"/>
<line x1="555.64" y1="240.88" x2="555.64" y2="311.30" stroke="#f00808" stroke-opacity="0.82" stroke-width="1.3" stroke-dasharray="3.05 1.67"/>
</g>
<path d="M467.45 200.90 L468.15 200.27 L468.85 199.64 L469.55 199.01 L470.24 198.39 L470.94 197.76 L471.64 197.13 L472.34 196.51 L473.04 195.89 L473.74 195.27 L474.43 194.66 L475.13 194.04 L475.83 193.43 L476.53 192.83 L477.23 192.23 L477.93 191.63 L478.62 191.04 L479.32 190.45 L480.02 189.87 L480.72 189.29 L481.42 188.72 L482.12 188.16 L482.81 187.60 L483.51 187.05 L484.21 186.50 L484.91 185.96 L485.61 185.43 L486.31 184.91 L487.00 184.40 L487.70 183.90 L488.40 183.40 L489.10 182.91 L489.80 182.44 L490.50 181.97 L491.19 181.51 L491.89 181.06 L492.59 180.62 L493.29 180.19 L493.99 179.77 L494.69 179.36 L495.38 178.96 L496.08 178.57 L496.78 178.19 L497.48 177.82 L498.18 177.46 L498.88 177.11 L499.57 176.77 L500.27 176.44 L500.97 176.12 L501.67 175.81 L502.37 175.51 L503.06 175.22 L503.76 174.94 L504.46 174.67 L505.16 174.42 L505.86 174.17 L506.56 173.93 L507.25 173.71 L507.95 173.50 L508.65 173.29 L509.35 173.10 L510.05 172.92 L510.75 172.76 L511.44 172.62 L512.14 172.50 L512.84 172.43 L513.54 172.39 L514.24 172.40 L514.94 172.46 L515.63 172.57 L516.33 172.73 L517.03 172.95 L517.73 173.21 L518.43 173.52 L519.13 173.89 L519.82 174.30 L520.52 174.76 L521.22 175.28 L521.92 175.83 L522.62 176.44 L523.32 177.09 L524.01 177.79 L524.71 178.54 L525.41 179.33 L526.11 180.16 L526.81 181.03 L527.51 181.93 L528.20 182.87 L528.90 183.85 L529.60 184.86 L530.30 185.90 L531.00 186.97 L531.70 188.07 L532.39 189.19 L533.09 190.35 L533.79 191.53 L534.49 192.73 L535.19 193.96 L535.89 195.22 L536.58 196.51 L537.28 197.81 L537.98 199.14 L538.68 200.50 L539.38 201.88 L540.08 203.28 L540.77 204.70 L541.47 206.14 L542.17 207.60 L542.87 209.09 L543.57 210.59 L544.27 212.12 L544.96 213.66 L545.66 215.22 L546.36 216.80 L547.06 218.39 L547.76 220.00 L548.46 221.63 L549.15 223.28 L549.85 224.94 L550.55 226.61 L551.25 228.30 L551.95 230.00 L552.65 231.72 L553.35 233.44 L554.04 235.17 L554.74 236.91 L555.44 238.66 L556.14 240.41 L556.84 242.16 L557.53 243.92 L558.23 245.67 L558.93 247.42 L559.63 249.16 L560.33 250.90 L561.03 252.63 L561.72 254.36 L562.42 256.07 L563.12 257.77 L563.82 259.45 L564.52 261.12 L565.22 262.78 L565.91 264.41 L566.61 266.02 L567.31 267.62 L568.01 269.18 L568.71 270.73 L569.41 272.24 L570.11 273.73 L570.80 275.18 L571.50 276.61 L572.20 278.00 L572.90 279.36 L573.60 280.68 L574.29 281.96 L574.99 283.21 L575.69 284.43 L576.39 285.61 L577.09 286.75 L577.79 287.86 L578.48 288.94 L579.18 289.98 L579.88 290.98 L580.58 291.95 L581.28 292.88 L581.98 293.78 L582.67 294.64 L583.37 295.47 L584.07 296.26 L584.77 297.01 L585.47 297.73 L586.17 298.42 L586.87 299.07 L587.56 299.68 L588.26 300.26 L588.96 300.80 L589.66 301.30 L590.36 301.77 L591.05 302.21 L591.75 302.61 L592.45 302.97 L593.15 303.30 L593.85 303.59 L594.55 303.85 L595.24 304.07 L595.94 304.26 L596.64 304.42 L597.34 304.54 L598.04 304.64 L598.74 304.70 L599.43 304.74 L600.13 304.74 L600.83 304.72 L601.53 304.67 L602.23 304.60 L602.93 304.50 L603.62 304.37 L604.32 304.22 L605.02 304.05 L605.72 303.86 L606.42 303.64 L607.12 303.41 L607.81 303.15 L608.51 302.88 L609.21 302.59 L609.91 302.28 L610.61 301.95 L611.31 301.61 L612.00 301.25 L612.70 300.88 L613.40 300.50 L614.10 300.10 L614.80 299.69 L615.50 299.27 L616.19 298.84 L616.89 298.40 L617.59 297.95 L618.29 297.49 L618.99 297.02 L619.69 296.54 L620.38 296.05 L621.08 295.55 L621.78 295.05 L622.48 294.54 L623.18 294.02 L623.88 293.49 L624.57 292.96 L625.27 292.42 L625.97 291.88 L626.67 291.33 L627.37 290.78 L628.07 290.22 L628.76 289.66 L629.46 289.10 L630.16 288.53 L630.86 287.96 L631.56 287.38 L632.26 286.81 L632.95 286.23 L633.65 285.66 L634.35 285.08 L635.05 284.50" fill="none" stroke="#0a0af5" stroke-width="1.5" stroke-linejoin="round" stroke-linecap="round"/>
<circle cx="467.45" cy="200.90" r="3.5" fill="url(#gbody)"/><circle cx="466.55" cy="199.95" r="1.75" fill="url(#ghl)"/>
<circle cx="488.40" cy="183.40" r="3.5" fill="url(#gbody)"/><circle cx="487.50" cy="182.45" r="1.75" fill="url(#ghl)"/>
<circle cx="509.35" cy="173.10" r="3.5" fill="url(#gbody)"/><circle cx="508.45" cy="172.15" r="1.75" fill="url(#ghl)"/>
<circle cx="530.30" cy="185.90" r="3.5" fill="url(#gbody)"/><circle cx="529.40" cy="184.95" r="1.75" fill="url(#ghl)"/>
<circle cx="551.25" cy="228.30" r="3.5" fill="url(#gbody)"/><circle cx="550.35" cy="227.35" r="1.75" fill="url(#ghl)"/>
<circle cx="572.20" cy="278.00" r="3.5" fill="url(#gbody)"/><circle cx="571.30" cy="277.05" r="1.75" fill="url(#ghl)"/>
<circle cx="593.15" cy="303.30" r="3.5" fill="url(#gbody)"/><circle cx="592.25" cy="302.35" r="1.75" fill="url(#ghl)"/>
<circle cx="614.10" cy="300.10" r="3.5" fill="url(#gbody)"/><circle cx="613.20" cy="299.15" r="1.75" fill="url(#ghl)"/>
<circle cx="635.05" cy="284.50" r="3.5" fill="url(#gbody)"/><circle cx="634.15" cy="283.55" r="1.75" fill="url(#ghl)"/>
<circle cx="555.34" cy="238.90" r="3.5" fill="url(#gbody)"/><circle cx="554.44" cy="237.95" r="1.75" fill="url(#ghl)"/>
<g fill="none">
<line x1="90.26" y1="5.65" x2="90.26" y2="158.05" stroke="#f00808" stroke-opacity="0.82" stroke-width="1.4" stroke-dasharray="3.0 1.83"/>
<line x1="194.79" y1="5.65" x2="194.79" y2="158.05" stroke="#f00808" stroke-opacity="0.82" stroke-width="1.4" stroke-dasharray="2.3 1.46"/>
<line x1="320.56" y1="5.65" x2="320.56" y2="158.05" stroke="#f00808" stroke-opacity="0.82" stroke-width="1.25" stroke-dasharray="3.0 1.83"/>
<line x1="404.52" y1="5.65" x2="404.52" y2="158.05" stroke="#f00808" stroke-opacity="0.82" stroke-width="1.25" stroke-dasharray="2.3 1.46"/>
<line x1="530.30" y1="5.65" x2="530.30" y2="158.05" stroke="#f00808" stroke-opacity="0.82" stroke-width="1.4" stroke-dasharray="3.0 1.83"/>
<line x1="635.05" y1="5.65" x2="635.05" y2="158.05" stroke="#f00808" stroke-opacity="0.82" stroke-width="1.4" stroke-dasharray="2.3 1.46"/>
</g>
<line x1="30.0" y1="8.65" x2="49.7" y2="8.65" stroke="#8000fa" stroke-width="1.5"/>
<polygon points="39.80,5.30 40.74,7.46 43.08,7.68 41.32,9.24 41.83,11.54 39.80,10.35 37.77,11.54 38.28,9.24 36.52,7.68 38.86,7.46" fill="#000094" stroke="#2020a0" stroke-width="0.4" stroke-linejoin="miter"/>
<line x1="30.0" y1="20.2" x2="49.7" y2="20.2" stroke="#0a0af5" stroke-width="1.5"/>
<circle cx="39.90" cy="20.20" r="3.5" fill="url(#gbody)"/><circle cx="39.00" cy="19.25" r="1.75" fill="url(#ghl)"/>
<text x="50.7" y="11.2" font-style="italic" style="font-size:7.9px">R<tspan font-size="5.6" dy="2.4">CGDD</tspan></text>
<text x="50.7" y="22.5" font-style="italic" style="font-size:7.9px">R<tspan font-size="5.6" dy="2.4">CETo</tspan></text>
</svg>
</body></html>
